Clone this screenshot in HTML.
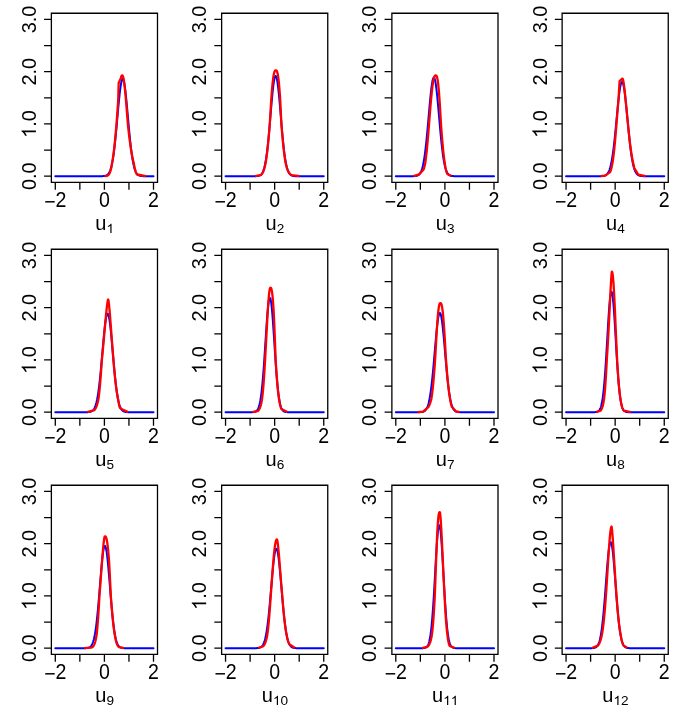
<!DOCTYPE html><html><head><meta charset="utf-8"><title>plot</title><style>html,body{margin:0;padding:0;background:#fff}svg{display:block;will-change:transform}text{font-family:"Liberation Sans",sans-serif;font-size:20px;fill:#000}</style></head><body>
<svg width="681" height="708" viewBox="0 0 681 708">
<rect width="681" height="708" fill="#fff"/>
<g transform="translate(0.00,0.00)">
<path d="M55.30,176.20 L55.61,176.20 L55.91,176.20 L56.22,176.20 L56.53,176.20 L56.83,176.20 L57.14,176.20 L57.45,176.20 L57.76,176.20 L58.06,176.20 L58.37,176.20 L58.68,176.20 L58.98,176.20 L59.29,176.20 L59.60,176.20 L59.90,176.20 L60.21,176.20 L60.52,176.20 L60.82,176.20 L61.13,176.20 L61.44,176.20 L61.74,176.20 L62.05,176.20 L62.36,176.20 L62.67,176.20 L62.97,176.20 L63.28,176.20 L63.59,176.20 L63.89,176.20 L64.20,176.20 L64.51,176.20 L64.81,176.20 L65.12,176.20 L65.43,176.20 L65.73,176.20 L66.04,176.20 L66.35,176.20 L66.65,176.20 L66.96,176.20 L67.27,176.20 L67.58,176.20 L67.88,176.20 L68.19,176.20 L68.50,176.20 L68.80,176.20 L69.11,176.20 L69.42,176.20 L69.72,176.20 L70.03,176.20 L70.34,176.20 L70.64,176.20 L70.95,176.20 L71.26,176.20 L71.56,176.20 L71.87,176.20 L72.18,176.20 L72.48,176.20 L72.79,176.20 L73.10,176.20 L73.41,176.20 L73.71,176.20 L74.02,176.20 L74.33,176.20 L74.63,176.20 L74.94,176.20 L75.25,176.20 L75.55,176.20 L75.86,176.20 L76.17,176.20 L76.47,176.20 L76.78,176.20 L77.09,176.20 L77.40,176.20 L77.70,176.20 L78.01,176.20 L78.32,176.20 L78.62,176.20 L78.93,176.20 L79.24,176.20 L79.54,176.20 L79.85,176.20 L80.16,176.20 L80.46,176.20 L80.77,176.20 L81.08,176.20 L81.38,176.20 L81.69,176.20 L82.00,176.20 L82.31,176.20 L82.61,176.20 L82.92,176.20 L83.23,176.20 L83.53,176.20 L83.84,176.20 L84.15,176.20 L84.45,176.20 L84.76,176.20 L85.07,176.20 L85.37,176.20 L85.68,176.20 L85.99,176.20 L86.29,176.20 L86.60,176.20 L86.91,176.20 L87.22,176.20 L87.52,176.20 L87.83,176.20 L88.14,176.20 L88.44,176.20 L88.75,176.20 L89.06,176.20 L89.36,176.20 L89.67,176.20 L89.98,176.20 L90.28,176.20 L90.59,176.20 L90.90,176.20 L91.20,176.20 L91.51,176.20 L91.82,176.20 L92.12,176.20 L92.43,176.20 L92.74,176.20 L93.05,176.20 L93.35,176.20 L93.66,176.20 L93.97,176.20 L94.27,176.20 L94.58,176.20 L94.89,176.20 L95.19,176.20 L95.50,176.20 L95.81,176.20 L96.11,176.20 L96.42,176.20 L96.73,176.20 L97.04,176.20 L97.34,176.20 L97.65,176.20 L97.96,176.20 L98.26,176.20 L98.57,176.20 L98.88,176.20 L99.18,176.20 L99.49,176.19 L99.80,176.19 L100.10,176.19 L100.41,176.19 L100.72,176.18 L101.02,176.18 L101.33,176.17 L101.64,176.17 L101.95,176.16 L102.25,176.15 L102.56,176.13 L102.87,176.12 L103.17,176.10 L103.48,176.07 L103.79,176.05 L104.09,176.01 L104.40,175.97 L104.71,175.91 L105.01,175.85 L105.32,175.78 L105.63,175.69 L105.93,175.58 L106.24,175.46 L106.55,175.31 L106.86,175.14 L107.16,174.94 L107.47,174.71 L107.78,174.44 L108.08,174.13 L108.39,173.77 L108.70,173.36 L109.00,172.88 L109.31,172.35 L109.62,171.74 L109.92,171.06 L110.23,170.29 L110.54,169.42 L110.84,168.46 L111.15,167.39 L111.46,166.21 L111.77,164.91 L112.07,163.48 L112.38,161.91 L112.69,160.21 L112.99,158.37 L113.30,156.38 L113.61,154.25 L113.91,151.97 L114.22,149.55 L114.53,146.98 L114.83,144.27 L115.14,141.42 L115.45,138.46 L115.75,135.38 L116.06,132.20 L116.37,128.93 L116.68,125.59 L116.98,122.19 L117.29,118.77 L117.60,115.34 L117.90,111.91 L118.21,108.53 L118.52,105.21 L118.82,101.98 L119.13,98.87 L119.44,95.90 L119.74,93.09 L120.05,90.49 L120.36,88.10 L120.66,85.94 L120.97,84.06 L121.28,82.45 L121.59,81.13 L121.89,80.12 L122.20,79.44 L122.51,79.07 L122.81,79.04 L123.12,79.34 L123.43,79.96 L123.73,80.90 L124.04,82.16 L124.35,83.71 L124.65,85.55 L124.96,87.65 L125.27,89.99 L125.57,92.56 L125.88,95.32 L126.19,98.26 L126.50,101.35 L126.80,104.56 L127.11,107.86 L127.42,111.23 L127.72,114.65 L128.03,118.08 L128.34,121.51 L128.64,124.91 L128.95,128.26 L129.26,131.55 L129.56,134.75 L129.87,137.85 L130.18,140.84 L130.48,143.71 L130.79,146.44 L131.10,149.04 L131.41,151.50 L131.71,153.81 L132.02,155.97 L132.33,157.99 L132.63,159.86 L132.94,161.58 L133.25,163.17 L133.55,164.63 L133.86,165.96 L134.17,167.16 L134.47,168.26 L134.78,169.24 L135.09,170.12 L135.39,170.91 L135.70,171.61 L136.01,172.23 L136.31,172.78 L136.62,173.27 L136.93,173.69 L137.24,174.06 L137.54,174.38 L137.85,174.66 L138.16,174.90 L138.46,175.11 L138.77,175.28 L139.08,175.43 L139.38,175.56 L139.69,175.67 L140.00,175.76 L140.30,175.84 L140.61,175.90 L140.92,175.96 L141.23,176.00 L141.53,176.04 L141.84,176.07 L142.15,176.09 L142.45,176.12 L142.76,176.13 L143.07,176.15 L143.37,176.16 L143.68,176.17 L143.99,176.17 L144.29,176.18 L144.60,176.18 L144.91,176.19 L145.21,176.19 L145.52,176.19 L145.83,176.19 L146.14,176.20 L146.44,176.20 L146.75,176.20 L147.06,176.20 L147.36,176.20 L147.67,176.20 L147.98,176.20 L148.28,176.20 L148.59,176.20 L148.90,176.20 L149.20,176.20 L149.51,176.20 L149.82,176.20 L150.12,176.20 L150.43,176.20 L150.74,176.20 L151.05,176.20 L151.35,176.20 L151.66,176.20 L151.97,176.20 L152.27,176.20 L152.58,176.20 L152.89,176.20 L153.19,176.20 L153.50,176.20" fill="none" stroke="#0000ff" stroke-width="2.0" stroke-linecap="round" stroke-linejoin="round"/>
<path d="M104.40,176.04 L107.20,175.78 L107.45,175.67 L107.70,175.54 L107.95,175.38 L108.20,175.19 L108.45,174.96 L108.70,174.69 L108.96,174.36 L109.21,173.98 L109.46,173.54 L109.71,173.02 L109.96,172.42 L110.21,171.73 L110.46,170.95 L110.71,170.06 L110.96,169.05 L111.22,167.92 L111.47,166.67 L111.72,165.27 L111.97,163.73 L112.22,162.29 L112.47,160.87 L112.72,159.35 L112.97,157.73 L113.22,155.99 L113.47,154.15 L113.73,152.19 L113.98,150.13 L114.23,147.95 L114.48,145.67 L114.73,143.29 L114.98,140.80 L115.23,138.22 L115.48,135.56 L115.73,132.80 L115.98,129.98 L116.24,127.09 L116.49,124.15 L116.74,120.69 L116.99,117.20 L117.24,113.71 L117.49,110.27 L117.74,106.88 L117.99,103.58 L118.24,98.26 L118.49,89.54 L118.69,82.83 L118.75,82.71 L119.00,82.19 L119.25,81.67 L119.50,81.15 L119.75,80.62 L120.00,80.10 L120.25,79.58 L120.50,79.06 L120.75,78.31 L121.01,77.32 L121.26,76.55 L121.51,76.00 L121.76,75.64 L122.01,75.46 L122.26,75.41 L122.51,75.52 L122.75,75.86 L123.00,76.45 L123.25,77.27 L123.49,78.34 L123.74,79.64 L123.99,81.17 L124.23,82.92 L124.48,84.88 L124.73,87.03 L124.97,89.36 L125.22,91.85 L125.46,94.50 L125.71,97.27 L125.96,100.15 L126.20,103.13 L126.45,106.18 L126.70,109.29 L126.94,112.43 L127.19,115.59 L127.44,118.75 L127.68,121.90 L127.93,124.76 L128.18,127.09 L128.42,129.36 L128.67,131.57 L128.92,133.72 L129.16,135.81 L129.41,137.84 L129.66,139.80 L129.90,141.70 L130.15,143.53 L130.40,145.29 L130.64,146.99 L130.89,148.61 L131.13,150.18 L131.38,151.67 L131.63,153.10 L131.87,154.47 L132.12,155.77 L132.37,157.01 L132.61,158.20 L132.86,159.32 L133.11,160.39 L133.35,161.40 L133.60,162.36 L133.85,163.37 L134.09,164.88 L134.34,166.26 L134.59,167.51 L134.83,168.64 L135.08,169.66 L135.33,170.57 L135.57,171.38 L135.82,172.09 L136.07,172.72 L136.31,173.27 L136.56,173.74 L136.80,174.15 L137.05,174.50 L146.01,176.04" fill="none" stroke="#ff0000" stroke-width="2.3" stroke-linecap="butt" stroke-linejoin="round"/>
<path d="M51.38,13.25 H157.50 V182.35 H51.38 Z M55.30,182.35 v7.30 M79.85,182.35 v7.30 M104.40,182.35 v7.30 M128.95,182.35 v7.30 M153.50,182.35 v7.30 M51.38,176.20 h-7.30 M51.38,150.07 h-7.30 M51.38,123.95 h-7.30 M51.38,97.82 h-7.30 M51.38,71.70 h-7.30 M51.38,45.57 h-7.30 M51.38,19.45 h-7.30" fill="none" stroke="#000" stroke-width="1.3"/>
<g transform="translate(55.30,206.8) scale(0.98,1.06) translate(-11.40,0)"><text x="0.00" y="2.10" style="font-size:20px">−</text><text x="11.68" y="0.00" style="font-size:20px">2</text></g>
<g transform="translate(104.40,206.8) scale(0.98,1.06) translate(-5.56,0)"><text x="0.00" y="0.00" style="font-size:20px">0</text></g>
<g transform="translate(153.50,206.8) scale(0.98,1.06) translate(-5.56,0)"><text x="0.00" y="0.00" style="font-size:20px">2</text></g>
<g transform="translate(35.9,176.20) rotate(-90) scale(1,1.05) translate(-13.90,0)"><text x="0.00" y="0.00" style="font-size:20px">0</text><text x="11.12" y="0.00" style="font-size:20px">.</text><text x="16.68" y="0.00" style="font-size:20px">0</text></g>
<g transform="translate(35.9,123.95) rotate(-90) scale(1,1.05) translate(-13.90,0)"><path d="M763 0H583V1147Q518 1085 412.5 1023T223 930V1104Q373 1174.5 485 1275T644 1469H763Z" transform="translate(0.00,0.00) scale(0.00977,-0.00933)" fill="#000"/><text x="11.12" y="0.00" style="font-size:20px">.</text><text x="16.68" y="0.00" style="font-size:20px">0</text></g>
<g transform="translate(35.9,71.70) rotate(-90) scale(1,1.05) translate(-13.90,0)"><text x="0.00" y="0.00" style="font-size:20px">2</text><text x="11.12" y="0.00" style="font-size:20px">.</text><text x="16.68" y="0.00" style="font-size:20px">0</text></g>
<g transform="translate(35.9,19.45) rotate(-90) scale(1,1.05) translate(-13.90,0)"><text x="0.00" y="0.00" style="font-size:20px">3</text><text x="11.12" y="0.00" style="font-size:20px">.</text><text x="16.68" y="0.00" style="font-size:20px">0</text></g>
<g transform="translate(104.70,229.6) translate(-9.34,0)"><text x="0.00" y="0.00" style="font-size:20px">u</text><path d="M763 0H583V1147Q518 1085 412.5 1023T223 930V1104Q373 1174.5 485 1275T644 1469H763Z" transform="translate(11.12,3.40) scale(0.00664,-0.00634)" fill="#000"/></g>
</g>
<g transform="translate(170.25,0.00)">
<path d="M55.30,176.20 L55.61,176.20 L55.91,176.20 L56.22,176.20 L56.53,176.20 L56.83,176.20 L57.14,176.20 L57.45,176.20 L57.76,176.20 L58.06,176.20 L58.37,176.20 L58.68,176.20 L58.98,176.20 L59.29,176.20 L59.60,176.20 L59.90,176.20 L60.21,176.20 L60.52,176.20 L60.82,176.20 L61.13,176.20 L61.44,176.20 L61.74,176.20 L62.05,176.20 L62.36,176.20 L62.67,176.20 L62.97,176.20 L63.28,176.20 L63.59,176.20 L63.89,176.20 L64.20,176.20 L64.51,176.20 L64.81,176.20 L65.12,176.20 L65.43,176.20 L65.73,176.20 L66.04,176.20 L66.35,176.20 L66.65,176.20 L66.96,176.20 L67.27,176.20 L67.58,176.20 L67.88,176.20 L68.19,176.20 L68.50,176.20 L68.80,176.20 L69.11,176.20 L69.42,176.20 L69.72,176.20 L70.03,176.20 L70.34,176.20 L70.64,176.20 L70.95,176.20 L71.26,176.20 L71.56,176.20 L71.87,176.20 L72.18,176.20 L72.48,176.20 L72.79,176.20 L73.10,176.20 L73.41,176.20 L73.71,176.20 L74.02,176.20 L74.33,176.20 L74.63,176.20 L74.94,176.20 L75.25,176.20 L75.55,176.20 L75.86,176.20 L76.17,176.20 L76.47,176.20 L76.78,176.20 L77.09,176.20 L77.40,176.20 L77.70,176.20 L78.01,176.20 L78.32,176.20 L78.62,176.20 L78.93,176.20 L79.24,176.20 L79.54,176.20 L79.85,176.20 L80.16,176.20 L80.46,176.20 L80.77,176.20 L81.08,176.20 L81.38,176.20 L81.69,176.20 L82.00,176.20 L82.31,176.20 L82.61,176.20 L82.92,176.19 L83.23,176.19 L83.53,176.19 L83.84,176.19 L84.15,176.18 L84.45,176.18 L84.76,176.17 L85.07,176.16 L85.37,176.15 L85.68,176.14 L85.99,176.13 L86.29,176.11 L86.60,176.08 L86.91,176.06 L87.22,176.02 L87.52,175.98 L87.83,175.93 L88.14,175.87 L88.44,175.79 L88.75,175.70 L89.06,175.60 L89.36,175.47 L89.67,175.32 L89.98,175.14 L90.28,174.93 L90.59,174.69 L90.90,174.41 L91.20,174.08 L91.51,173.70 L91.82,173.26 L92.12,172.75 L92.43,172.18 L92.74,171.53 L93.05,170.79 L93.35,169.95 L93.66,169.01 L93.97,167.96 L94.27,166.80 L94.58,165.50 L94.89,164.08 L95.19,162.51 L95.50,160.79 L95.81,158.92 L96.11,156.89 L96.42,154.71 L96.73,152.36 L97.04,149.85 L97.34,147.19 L97.65,144.36 L97.96,141.39 L98.26,138.28 L98.57,135.04 L98.88,131.69 L99.18,128.23 L99.49,124.70 L99.80,121.10 L100.10,117.46 L100.41,113.81 L100.72,110.17 L101.02,106.57 L101.33,103.04 L101.64,99.60 L101.95,96.30 L102.25,93.15 L102.56,90.19 L102.87,87.44 L103.17,84.94 L103.48,82.70 L103.79,80.76 L104.09,79.13 L104.40,77.82 L104.71,76.86 L105.01,76.24 L105.32,75.99 L105.63,76.10 L105.93,76.57 L106.24,77.39 L106.55,78.56 L106.86,80.07 L107.16,81.89 L107.47,84.01 L107.78,86.41 L108.08,89.06 L108.39,91.94 L108.70,95.02 L109.00,98.26 L109.31,101.65 L109.62,105.15 L109.92,108.72 L110.23,112.35 L110.54,116.00 L110.84,119.65 L111.15,123.26 L111.46,126.83 L111.77,130.32 L112.07,133.72 L112.38,137.00 L112.69,140.17 L112.99,143.19 L113.30,146.08 L113.61,148.81 L113.91,151.38 L114.22,153.79 L114.53,156.04 L114.83,158.13 L115.14,160.06 L115.45,161.84 L115.75,163.47 L116.06,164.95 L116.37,166.30 L116.68,167.51 L116.98,168.61 L117.29,169.59 L117.60,170.46 L117.90,171.24 L118.21,171.93 L118.52,172.53 L118.82,173.06 L119.13,173.53 L119.44,173.93 L119.74,174.28 L120.05,174.58 L120.36,174.84 L120.66,175.06 L120.97,175.25 L121.28,175.41 L121.59,175.55 L121.89,175.66 L122.20,175.76 L122.51,175.84 L122.81,175.90 L123.12,175.96 L123.43,176.01 L123.73,176.04 L124.04,176.07 L124.35,176.10 L124.65,176.12 L124.96,176.14 L125.27,176.15 L125.57,176.16 L125.88,176.17 L126.19,176.18 L126.50,176.18 L126.80,176.18 L127.11,176.19 L127.42,176.19 L127.72,176.19 L128.03,176.19 L128.34,176.20 L128.64,176.20 L128.95,176.20 L129.26,176.20 L129.56,176.20 L129.87,176.20 L130.18,176.20 L130.48,176.20 L130.79,176.20 L131.10,176.20 L131.41,176.20 L131.71,176.20 L132.02,176.20 L132.33,176.20 L132.63,176.20 L132.94,176.20 L133.25,176.20 L133.55,176.20 L133.86,176.20 L134.17,176.20 L134.47,176.20 L134.78,176.20 L135.09,176.20 L135.39,176.20 L135.70,176.20 L136.01,176.20 L136.31,176.20 L136.62,176.20 L136.93,176.20 L137.24,176.20 L137.54,176.20 L137.85,176.20 L138.16,176.20 L138.46,176.20 L138.77,176.20 L139.08,176.20 L139.38,176.20 L139.69,176.20 L140.00,176.20 L140.30,176.20 L140.61,176.20 L140.92,176.20 L141.23,176.20 L141.53,176.20 L141.84,176.20 L142.15,176.20 L142.45,176.20 L142.76,176.20 L143.07,176.20 L143.37,176.20 L143.68,176.20 L143.99,176.20 L144.29,176.20 L144.60,176.20 L144.91,176.20 L145.21,176.20 L145.52,176.20 L145.83,176.20 L146.14,176.20 L146.44,176.20 L146.75,176.20 L147.06,176.20 L147.36,176.20 L147.67,176.20 L147.98,176.20 L148.28,176.20 L148.59,176.20 L148.90,176.20 L149.20,176.20 L149.51,176.20 L149.82,176.20 L150.12,176.20 L150.43,176.20 L150.74,176.20 L151.05,176.20 L151.35,176.20 L151.66,176.20 L151.97,176.20 L152.27,176.20 L152.58,176.20 L152.89,176.20 L153.19,176.20 L153.50,176.20" fill="none" stroke="#0000ff" stroke-width="2.0" stroke-linecap="round" stroke-linejoin="round"/>
<path d="M84.56,176.04 L90.28,175.16 L90.54,174.98 L90.79,174.79 L91.05,174.56 L91.31,174.31 L91.56,174.02 L91.82,173.70 L92.07,173.33 L92.33,172.92 L92.58,172.46 L92.84,171.95 L93.09,171.37 L93.35,170.73 L93.60,170.03 L93.86,169.25 L94.11,168.39 L94.37,167.45 L94.62,166.42 L94.88,165.29 L95.13,164.07 L95.39,162.73 L95.65,161.25 L95.90,159.66 L96.16,157.94 L96.41,156.10 L96.67,154.14 L96.92,152.05 L97.18,149.84 L97.43,147.50 L97.69,145.04 L97.94,142.46 L98.20,139.77 L98.45,136.97 L98.71,134.07 L98.96,131.08 L99.22,128.01 L99.48,124.87 L99.73,120.80 L99.99,116.38 L100.24,112.00 L100.50,107.71 L100.75,103.54 L101.01,99.54 L101.26,95.89 L101.52,92.59 L101.77,89.48 L102.03,86.58 L102.28,83.92 L102.54,81.50 L102.79,79.33 L103.05,77.42 L103.31,75.75 L103.56,74.34 L103.82,73.17 L104.07,72.23 L104.33,71.50 L104.58,70.97 L104.84,70.61 L105.09,70.40 L105.35,70.31 L105.60,70.29 L105.87,70.31 L106.14,70.43 L106.40,70.71 L106.67,71.17 L106.93,71.85 L107.20,72.79 L107.47,74.00 L107.73,75.50 L108.00,77.30 L108.27,79.41 L108.53,81.83 L108.80,84.56 L109.07,87.57 L109.33,90.87 L109.60,94.41 L109.86,98.32 L110.13,103.30 L110.40,108.57 L110.66,114.08 L110.93,119.74 L111.20,124.83 L111.46,128.15 L111.73,131.37 L112.00,134.50 L112.26,137.51 L112.53,140.40 L112.79,143.17 L113.06,145.81 L113.33,148.31 L113.59,150.67 L113.86,152.90 L114.13,154.99 L114.39,156.94 L114.66,158.76 L114.93,160.45 L115.19,162.01 L115.46,163.41 L115.72,164.54 L115.99,165.60 L116.26,166.57 L116.52,167.47 L116.79,168.29 L117.06,169.05 L117.32,169.74 L117.59,170.38 L117.86,170.96 L118.12,171.49 L118.39,171.97 L118.65,172.40 L118.92,172.80 L119.19,173.16 L119.45,173.49 L119.72,173.78 L119.99,174.05 L120.25,174.28 L120.52,174.50 L120.79,174.69 L121.05,174.86 L121.32,175.02 L121.59,175.16 L129.32,176.04" fill="none" stroke="#ff0000" stroke-width="2.3" stroke-linecap="butt" stroke-linejoin="round"/>
<path d="M51.38,13.25 H157.50 V182.35 H51.38 Z M55.30,182.35 v7.30 M79.85,182.35 v7.30 M104.40,182.35 v7.30 M128.95,182.35 v7.30 M153.50,182.35 v7.30 M51.38,176.20 h-7.30 M51.38,150.07 h-7.30 M51.38,123.95 h-7.30 M51.38,97.82 h-7.30 M51.38,71.70 h-7.30 M51.38,45.57 h-7.30 M51.38,19.45 h-7.30" fill="none" stroke="#000" stroke-width="1.3"/>
<g transform="translate(55.30,206.8) scale(0.98,1.06) translate(-11.40,0)"><text x="0.00" y="2.10" style="font-size:20px">−</text><text x="11.68" y="0.00" style="font-size:20px">2</text></g>
<g transform="translate(104.40,206.8) scale(0.98,1.06) translate(-5.56,0)"><text x="0.00" y="0.00" style="font-size:20px">0</text></g>
<g transform="translate(153.50,206.8) scale(0.98,1.06) translate(-5.56,0)"><text x="0.00" y="0.00" style="font-size:20px">2</text></g>
<g transform="translate(35.9,176.20) rotate(-90) scale(1,1.05) translate(-13.90,0)"><text x="0.00" y="0.00" style="font-size:20px">0</text><text x="11.12" y="0.00" style="font-size:20px">.</text><text x="16.68" y="0.00" style="font-size:20px">0</text></g>
<g transform="translate(35.9,123.95) rotate(-90) scale(1,1.05) translate(-13.90,0)"><path d="M763 0H583V1147Q518 1085 412.5 1023T223 930V1104Q373 1174.5 485 1275T644 1469H763Z" transform="translate(0.00,0.00) scale(0.00977,-0.00933)" fill="#000"/><text x="11.12" y="0.00" style="font-size:20px">.</text><text x="16.68" y="0.00" style="font-size:20px">0</text></g>
<g transform="translate(35.9,71.70) rotate(-90) scale(1,1.05) translate(-13.90,0)"><text x="0.00" y="0.00" style="font-size:20px">2</text><text x="11.12" y="0.00" style="font-size:20px">.</text><text x="16.68" y="0.00" style="font-size:20px">0</text></g>
<g transform="translate(35.9,19.45) rotate(-90) scale(1,1.05) translate(-13.90,0)"><text x="0.00" y="0.00" style="font-size:20px">3</text><text x="11.12" y="0.00" style="font-size:20px">.</text><text x="16.68" y="0.00" style="font-size:20px">0</text></g>
<g transform="translate(104.70,229.6) translate(-9.34,0)"><text x="0.00" y="0.00" style="font-size:20px">u</text><text x="11.12" y="3.40" style="font-size:13.6px">2</text></g>
</g>
<g transform="translate(340.50,0.00)">
<path d="M55.30,176.20 L55.61,176.20 L55.91,176.20 L56.22,176.20 L56.53,176.20 L56.83,176.20 L57.14,176.20 L57.45,176.20 L57.76,176.20 L58.06,176.20 L58.37,176.20 L58.68,176.20 L58.98,176.20 L59.29,176.20 L59.60,176.20 L59.90,176.20 L60.21,176.20 L60.52,176.20 L60.82,176.20 L61.13,176.20 L61.44,176.20 L61.74,176.20 L62.05,176.20 L62.36,176.20 L62.67,176.20 L62.97,176.20 L63.28,176.20 L63.59,176.20 L63.89,176.20 L64.20,176.20 L64.51,176.20 L64.81,176.20 L65.12,176.20 L65.43,176.20 L65.73,176.20 L66.04,176.20 L66.35,176.20 L66.65,176.20 L66.96,176.20 L67.27,176.20 L67.58,176.20 L67.88,176.20 L68.19,176.20 L68.50,176.20 L68.80,176.20 L69.11,176.20 L69.42,176.20 L69.72,176.20 L70.03,176.20 L70.34,176.19 L70.64,176.19 L70.95,176.19 L71.26,176.19 L71.56,176.19 L71.87,176.18 L72.18,176.18 L72.48,176.17 L72.79,176.16 L73.10,176.15 L73.41,176.14 L73.71,176.12 L74.02,176.10 L74.33,176.08 L74.63,176.05 L74.94,176.02 L75.25,175.98 L75.55,175.92 L75.86,175.86 L76.17,175.79 L76.47,175.70 L76.78,175.60 L77.09,175.47 L77.40,175.33 L77.70,175.15 L78.01,174.95 L78.32,174.72 L78.62,174.44 L78.93,174.13 L79.24,173.76 L79.54,173.34 L79.85,172.86 L80.16,172.31 L80.46,171.68 L80.77,170.98 L81.08,170.18 L81.38,169.29 L81.69,168.30 L82.00,167.19 L82.31,165.97 L82.61,164.61 L82.92,163.13 L83.23,161.50 L83.53,159.74 L83.84,157.82 L84.15,155.75 L84.45,153.53 L84.76,151.15 L85.07,148.63 L85.37,145.95 L85.68,143.13 L85.99,140.17 L86.29,137.09 L86.60,133.89 L86.91,130.59 L87.22,127.20 L87.52,123.74 L87.83,120.24 L88.14,116.71 L88.44,113.17 L88.75,109.66 L89.06,106.20 L89.36,102.82 L89.67,99.54 L89.98,96.40 L90.28,93.42 L90.59,90.62 L90.90,88.04 L91.20,85.70 L91.51,83.62 L91.82,81.82 L92.12,80.32 L92.43,79.14 L92.74,78.29 L93.05,77.78 L93.35,77.60 L93.66,77.78 L93.97,78.29 L94.27,79.14 L94.58,80.32 L94.89,81.82 L95.19,83.62 L95.50,85.70 L95.81,88.04 L96.11,90.62 L96.42,93.42 L96.73,96.40 L97.04,99.54 L97.34,102.82 L97.65,106.20 L97.96,109.66 L98.26,113.17 L98.57,116.71 L98.88,120.24 L99.18,123.74 L99.49,127.20 L99.80,130.59 L100.10,133.89 L100.41,137.09 L100.72,140.17 L101.02,143.13 L101.33,145.95 L101.64,148.63 L101.95,151.15 L102.25,153.53 L102.56,155.75 L102.87,157.82 L103.17,159.74 L103.48,161.50 L103.79,163.13 L104.09,164.61 L104.40,165.97 L104.71,167.19 L105.01,168.30 L105.32,169.29 L105.63,170.18 L105.93,170.98 L106.24,171.68 L106.55,172.31 L106.86,172.86 L107.16,173.34 L107.47,173.76 L107.78,174.13 L108.08,174.44 L108.39,174.72 L108.70,174.95 L109.00,175.15 L109.31,175.33 L109.62,175.47 L109.92,175.60 L110.23,175.70 L110.54,175.79 L110.84,175.86 L111.15,175.92 L111.46,175.98 L111.77,176.02 L112.07,176.05 L112.38,176.08 L112.69,176.10 L112.99,176.12 L113.30,176.14 L113.61,176.15 L113.91,176.16 L114.22,176.17 L114.53,176.18 L114.83,176.18 L115.14,176.19 L115.45,176.19 L115.75,176.19 L116.06,176.19 L116.37,176.19 L116.68,176.20 L116.98,176.20 L117.29,176.20 L117.60,176.20 L117.90,176.20 L118.21,176.20 L118.52,176.20 L118.82,176.20 L119.13,176.20 L119.44,176.20 L119.74,176.20 L120.05,176.20 L120.36,176.20 L120.66,176.20 L120.97,176.20 L121.28,176.20 L121.59,176.20 L121.89,176.20 L122.20,176.20 L122.51,176.20 L122.81,176.20 L123.12,176.20 L123.43,176.20 L123.73,176.20 L124.04,176.20 L124.35,176.20 L124.65,176.20 L124.96,176.20 L125.27,176.20 L125.57,176.20 L125.88,176.20 L126.19,176.20 L126.50,176.20 L126.80,176.20 L127.11,176.20 L127.42,176.20 L127.72,176.20 L128.03,176.20 L128.34,176.20 L128.64,176.20 L128.95,176.20 L129.26,176.20 L129.56,176.20 L129.87,176.20 L130.18,176.20 L130.48,176.20 L130.79,176.20 L131.10,176.20 L131.41,176.20 L131.71,176.20 L132.02,176.20 L132.33,176.20 L132.63,176.20 L132.94,176.20 L133.25,176.20 L133.55,176.20 L133.86,176.20 L134.17,176.20 L134.47,176.20 L134.78,176.20 L135.09,176.20 L135.39,176.20 L135.70,176.20 L136.01,176.20 L136.31,176.20 L136.62,176.20 L136.93,176.20 L137.24,176.20 L137.54,176.20 L137.85,176.20 L138.16,176.20 L138.46,176.20 L138.77,176.20 L139.08,176.20 L139.38,176.20 L139.69,176.20 L140.00,176.20 L140.30,176.20 L140.61,176.20 L140.92,176.20 L141.23,176.20 L141.53,176.20 L141.84,176.20 L142.15,176.20 L142.45,176.20 L142.76,176.20 L143.07,176.20 L143.37,176.20 L143.68,176.20 L143.99,176.20 L144.29,176.20 L144.60,176.20 L144.91,176.20 L145.21,176.20 L145.52,176.20 L145.83,176.20 L146.14,176.20 L146.44,176.20 L146.75,176.20 L147.06,176.20 L147.36,176.20 L147.67,176.20 L147.98,176.20 L148.28,176.20 L148.59,176.20 L148.90,176.20 L149.20,176.20 L149.51,176.20 L149.82,176.20 L150.12,176.20 L150.43,176.20 L150.74,176.20 L151.05,176.20 L151.35,176.20 L151.66,176.20 L151.97,176.20 L152.27,176.20 L152.58,176.20 L152.89,176.20 L153.19,176.20 L153.50,176.20" fill="none" stroke="#0000ff" stroke-width="2.0" stroke-linecap="round" stroke-linejoin="round"/>
<path d="M72.98,176.04 L78.62,174.37 L83.12,169.51 L83.32,168.88 L83.52,168.21 L83.72,167.49 L83.92,166.71 L84.12,165.89 L84.32,165.00 L84.52,164.06 L84.73,163.04 L84.93,161.71 L85.13,160.29 L85.33,158.78 L85.53,157.18 L85.73,155.48 L85.93,153.70 L86.13,151.82 L86.34,149.86 L86.54,147.82 L86.74,145.69 L86.94,143.48 L87.14,141.21 L87.34,138.87 L87.54,136.47 L87.75,134.01 L87.95,131.51 L88.15,128.97 L88.35,126.41 L88.55,123.83 L88.75,121.33 L88.95,118.82 L89.15,116.32 L89.36,113.83 L89.56,111.36 L89.76,108.92 L89.96,106.52 L90.16,104.17 L90.36,101.87 L90.56,99.64 L90.76,97.48 L90.97,95.39 L91.17,93.39 L91.37,91.48 L91.57,89.67 L91.77,87.96 L91.97,86.35 L92.17,84.86 L92.38,83.47 L92.58,82.20 L92.78,81.05 L92.98,80.01 L93.18,79.09 L93.38,78.28 L93.58,77.58 L93.78,76.99 L93.99,76.50 L94.19,76.12 L94.39,75.82 L94.59,75.62 L94.79,75.49 L94.99,75.42 L95.19,75.41 L95.39,75.42 L95.58,75.48 L95.78,75.62 L95.97,75.85 L96.17,76.20 L96.36,76.68 L96.55,77.29 L96.75,78.06 L96.94,79.00 L97.14,80.10 L97.33,81.38 L97.53,82.84 L97.72,84.48 L97.91,86.30 L98.11,88.30 L98.30,90.47 L98.50,92.80 L98.69,95.30 L98.89,97.94 L99.08,100.71 L99.28,103.61 L99.47,106.72 L99.66,109.94 L99.86,113.24 L100.05,116.60 L100.25,120.00 L100.44,123.41 L100.64,126.16 L100.83,128.76 L101.02,131.31 L101.22,133.82 L101.41,136.26 L101.61,138.65 L101.80,140.96 L102.00,143.20 L102.19,145.36 L102.38,147.44 L102.58,149.43 L102.77,151.34 L102.97,153.16 L103.16,154.89 L103.36,156.54 L103.55,158.09 L103.75,159.56 L103.94,160.94 L104.13,162.24 L104.33,163.50 L104.52,164.83 L104.72,166.05 L104.91,167.17 L105.11,168.20 L105.30,169.13 L105.49,169.98 L105.69,170.74 L105.88,171.43 L106.08,172.05 L106.27,172.60 L106.47,173.09 L106.66,173.52 L106.86,173.90 L110.88,176.04" fill="none" stroke="#ff0000" stroke-width="2.3" stroke-linecap="butt" stroke-linejoin="round"/>
<path d="M51.38,13.25 H157.50 V182.35 H51.38 Z M55.30,182.35 v7.30 M79.85,182.35 v7.30 M104.40,182.35 v7.30 M128.95,182.35 v7.30 M153.50,182.35 v7.30 M51.38,176.20 h-7.30 M51.38,150.07 h-7.30 M51.38,123.95 h-7.30 M51.38,97.82 h-7.30 M51.38,71.70 h-7.30 M51.38,45.57 h-7.30 M51.38,19.45 h-7.30" fill="none" stroke="#000" stroke-width="1.3"/>
<g transform="translate(55.30,206.8) scale(0.98,1.06) translate(-11.40,0)"><text x="0.00" y="2.10" style="font-size:20px">−</text><text x="11.68" y="0.00" style="font-size:20px">2</text></g>
<g transform="translate(104.40,206.8) scale(0.98,1.06) translate(-5.56,0)"><text x="0.00" y="0.00" style="font-size:20px">0</text></g>
<g transform="translate(153.50,206.8) scale(0.98,1.06) translate(-5.56,0)"><text x="0.00" y="0.00" style="font-size:20px">2</text></g>
<g transform="translate(35.9,176.20) rotate(-90) scale(1,1.05) translate(-13.90,0)"><text x="0.00" y="0.00" style="font-size:20px">0</text><text x="11.12" y="0.00" style="font-size:20px">.</text><text x="16.68" y="0.00" style="font-size:20px">0</text></g>
<g transform="translate(35.9,123.95) rotate(-90) scale(1,1.05) translate(-13.90,0)"><path d="M763 0H583V1147Q518 1085 412.5 1023T223 930V1104Q373 1174.5 485 1275T644 1469H763Z" transform="translate(0.00,0.00) scale(0.00977,-0.00933)" fill="#000"/><text x="11.12" y="0.00" style="font-size:20px">.</text><text x="16.68" y="0.00" style="font-size:20px">0</text></g>
<g transform="translate(35.9,71.70) rotate(-90) scale(1,1.05) translate(-13.90,0)"><text x="0.00" y="0.00" style="font-size:20px">2</text><text x="11.12" y="0.00" style="font-size:20px">.</text><text x="16.68" y="0.00" style="font-size:20px">0</text></g>
<g transform="translate(35.9,19.45) rotate(-90) scale(1,1.05) translate(-13.90,0)"><text x="0.00" y="0.00" style="font-size:20px">3</text><text x="11.12" y="0.00" style="font-size:20px">.</text><text x="16.68" y="0.00" style="font-size:20px">0</text></g>
<g transform="translate(104.70,229.6) translate(-9.34,0)"><text x="0.00" y="0.00" style="font-size:20px">u</text><text x="11.12" y="3.40" style="font-size:13.6px">3</text></g>
</g>
<g transform="translate(510.75,0.00)">
<path d="M55.30,176.20 L55.61,176.20 L55.91,176.20 L56.22,176.20 L56.53,176.20 L56.83,176.20 L57.14,176.20 L57.45,176.20 L57.76,176.20 L58.06,176.20 L58.37,176.20 L58.68,176.20 L58.98,176.20 L59.29,176.20 L59.60,176.20 L59.90,176.20 L60.21,176.20 L60.52,176.20 L60.82,176.20 L61.13,176.20 L61.44,176.20 L61.74,176.20 L62.05,176.20 L62.36,176.20 L62.67,176.20 L62.97,176.20 L63.28,176.20 L63.59,176.20 L63.89,176.20 L64.20,176.20 L64.51,176.20 L64.81,176.20 L65.12,176.20 L65.43,176.20 L65.73,176.20 L66.04,176.20 L66.35,176.20 L66.65,176.20 L66.96,176.20 L67.27,176.20 L67.58,176.20 L67.88,176.20 L68.19,176.20 L68.50,176.20 L68.80,176.20 L69.11,176.20 L69.42,176.20 L69.72,176.20 L70.03,176.20 L70.34,176.20 L70.64,176.20 L70.95,176.20 L71.26,176.20 L71.56,176.20 L71.87,176.20 L72.18,176.20 L72.48,176.20 L72.79,176.20 L73.10,176.20 L73.41,176.20 L73.71,176.20 L74.02,176.20 L74.33,176.20 L74.63,176.20 L74.94,176.20 L75.25,176.20 L75.55,176.20 L75.86,176.20 L76.17,176.20 L76.47,176.20 L76.78,176.20 L77.09,176.20 L77.40,176.20 L77.70,176.20 L78.01,176.20 L78.32,176.20 L78.62,176.20 L78.93,176.20 L79.24,176.20 L79.54,176.20 L79.85,176.20 L80.16,176.20 L80.46,176.20 L80.77,176.20 L81.08,176.20 L81.38,176.20 L81.69,176.20 L82.00,176.20 L82.31,176.20 L82.61,176.20 L82.92,176.20 L83.23,176.20 L83.53,176.20 L83.84,176.20 L84.15,176.20 L84.45,176.20 L84.76,176.20 L85.07,176.20 L85.37,176.20 L85.68,176.20 L85.99,176.20 L86.29,176.20 L86.60,176.20 L86.91,176.20 L87.22,176.19 L87.52,176.19 L87.83,176.19 L88.14,176.19 L88.44,176.19 L88.75,176.18 L89.06,176.18 L89.36,176.17 L89.67,176.17 L89.98,176.16 L90.28,176.15 L90.59,176.13 L90.90,176.12 L91.20,176.10 L91.51,176.07 L91.82,176.05 L92.12,176.01 L92.43,175.97 L92.74,175.92 L93.05,175.86 L93.35,175.79 L93.66,175.71 L93.97,175.61 L94.27,175.50 L94.58,175.36 L94.89,175.20 L95.19,175.02 L95.50,174.81 L95.81,174.56 L96.11,174.28 L96.42,173.96 L96.73,173.59 L97.04,173.17 L97.34,172.69 L97.65,172.15 L97.96,171.54 L98.26,170.85 L98.57,170.09 L98.88,169.23 L99.18,168.29 L99.49,167.24 L99.80,166.09 L100.10,164.83 L100.41,163.45 L100.72,161.94 L101.02,160.32 L101.33,158.56 L101.64,156.67 L101.95,154.64 L102.25,152.48 L102.56,150.19 L102.87,147.77 L103.17,145.22 L103.48,142.55 L103.79,139.77 L104.09,136.88 L104.40,133.90 L104.71,130.84 L105.01,127.71 L105.32,124.53 L105.63,121.32 L105.93,118.09 L106.24,114.87 L106.55,111.68 L106.86,108.53 L107.16,105.46 L107.47,102.49 L107.78,99.64 L108.08,96.93 L108.39,94.38 L108.70,92.03 L109.00,89.88 L109.31,87.95 L109.62,86.28 L109.92,84.86 L110.23,83.72 L110.54,82.86 L110.84,82.29 L111.15,82.02 L111.46,82.05 L111.77,82.38 L112.07,83.00 L112.38,83.92 L112.69,85.12 L112.99,86.59 L113.30,88.32 L113.61,90.29 L113.91,92.48 L114.22,94.88 L114.53,97.46 L114.83,100.20 L115.14,103.08 L115.45,106.07 L115.75,109.16 L116.06,112.31 L116.37,115.51 L116.68,118.73 L116.98,121.96 L117.29,125.17 L117.60,128.34 L117.90,131.45 L118.21,134.50 L118.52,137.47 L118.82,140.33 L119.13,143.09 L119.44,145.74 L119.74,148.26 L120.05,150.66 L120.36,152.93 L120.66,155.06 L120.97,157.05 L121.28,158.92 L121.59,160.65 L121.89,162.25 L122.20,163.73 L122.51,165.09 L122.81,166.33 L123.12,167.46 L123.43,168.49 L123.73,169.41 L124.04,170.25 L124.35,171.00 L124.65,171.66 L124.96,172.26 L125.27,172.79 L125.57,173.25 L125.88,173.67 L126.19,174.03 L126.50,174.34 L126.80,174.62 L127.11,174.85 L127.42,175.06 L127.72,175.24 L128.03,175.39 L128.34,175.52 L128.64,175.63 L128.95,175.73 L129.26,175.81 L129.56,175.87 L129.87,175.93 L130.18,175.98 L130.48,176.02 L130.79,176.05 L131.10,176.08 L131.41,176.10 L131.71,176.12 L132.02,176.14 L132.33,176.15 L132.63,176.16 L132.94,176.17 L133.25,176.17 L133.55,176.18 L133.86,176.18 L134.17,176.19 L134.47,176.19 L134.78,176.19 L135.09,176.19 L135.39,176.20 L135.70,176.20 L136.01,176.20 L136.31,176.20 L136.62,176.20 L136.93,176.20 L137.24,176.20 L137.54,176.20 L137.85,176.20 L138.16,176.20 L138.46,176.20 L138.77,176.20 L139.08,176.20 L139.38,176.20 L139.69,176.20 L140.00,176.20 L140.30,176.20 L140.61,176.20 L140.92,176.20 L141.23,176.20 L141.53,176.20 L141.84,176.20 L142.15,176.20 L142.45,176.20 L142.76,176.20 L143.07,176.20 L143.37,176.20 L143.68,176.20 L143.99,176.20 L144.29,176.20 L144.60,176.20 L144.91,176.20 L145.21,176.20 L145.52,176.20 L145.83,176.20 L146.14,176.20 L146.44,176.20 L146.75,176.20 L147.06,176.20 L147.36,176.20 L147.67,176.20 L147.98,176.20 L148.28,176.20 L148.59,176.20 L148.90,176.20 L149.20,176.20 L149.51,176.20 L149.82,176.20 L150.12,176.20 L150.43,176.20 L150.74,176.20 L151.05,176.20 L151.35,176.20 L151.66,176.20 L151.97,176.20 L152.27,176.20 L152.58,176.20 L152.89,176.20 L153.19,176.20 L153.50,176.20" fill="none" stroke="#0000ff" stroke-width="2.0" stroke-linecap="round" stroke-linejoin="round"/>
<path d="M89.67,176.04 L94.46,175.68 L99.32,172.18 L99.53,171.69 L99.73,171.15 L99.94,170.56 L100.15,169.92 L100.36,169.22 L100.57,168.46 L100.78,167.63 L100.98,166.74 L101.19,165.78 L101.40,164.75 L101.61,163.64 L101.82,162.42 L102.03,161.10 L102.23,159.68 L102.44,158.18 L102.65,156.59 L102.86,154.92 L103.07,153.15 L103.28,151.30 L103.48,149.36 L103.69,147.34 L103.90,145.24 L104.11,143.07 L104.32,140.82 L104.52,138.51 L104.73,136.14 L104.94,133.72 L105.15,131.25 L105.36,128.74 L105.57,126.21 L105.77,123.64 L105.98,121.00 L106.19,118.36 L106.40,115.73 L106.61,113.13 L106.82,110.56 L107.02,108.03 L107.23,105.56 L107.44,103.15 L107.65,100.48 L107.86,97.15 L108.07,93.82 L108.27,90.50 L108.48,87.17 L108.69,83.84 L108.87,81.00 L108.90,80.98 L109.11,80.81 L109.31,80.64 L109.52,80.47 L109.73,80.30 L109.94,80.13 L110.15,79.96 L110.36,79.79 L110.56,79.62 L110.77,79.45 L110.98,79.17 L111.19,78.89 L111.40,78.71 L111.61,78.62 L111.81,78.60 L112.01,78.86 L112.21,79.42 L112.40,80.19 L112.60,81.14 L112.79,82.24 L112.99,83.47 L113.18,84.83 L113.38,86.29 L113.57,87.85 L113.77,89.49 L113.97,91.21 L114.16,92.99 L114.36,94.83 L114.55,96.71 L114.75,98.64 L114.94,100.61 L115.14,102.60 L115.33,104.61 L115.53,106.63 L115.73,108.67 L115.92,110.71 L116.12,112.75 L116.31,114.78 L116.51,116.80 L116.70,118.80 L116.90,120.79 L117.09,122.75 L117.29,124.73 L117.49,126.74 L117.68,128.71 L117.88,130.65 L118.07,132.56 L118.27,134.42 L118.46,136.25 L118.66,138.03 L118.86,139.76 L119.05,141.45 L119.25,143.09 L119.44,144.69 L119.64,146.23 L119.83,147.73 L120.03,149.17 L120.22,150.57 L120.42,151.91 L120.62,153.20 L120.81,154.45 L121.01,155.64 L121.20,156.79 L121.40,157.89 L121.59,158.94 L121.79,159.94 L121.98,160.90 L122.18,161.81 L122.38,162.68 L122.57,163.63 L122.77,164.64 L122.96,165.60 L123.16,166.49 L123.35,167.32 L123.55,168.10 L127.50,174.63 L134.96,176.04" fill="none" stroke="#ff0000" stroke-width="2.3" stroke-linecap="butt" stroke-linejoin="round"/>
<path d="M51.38,13.25 H157.50 V182.35 H51.38 Z M55.30,182.35 v7.30 M79.85,182.35 v7.30 M104.40,182.35 v7.30 M128.95,182.35 v7.30 M153.50,182.35 v7.30 M51.38,176.20 h-7.30 M51.38,150.07 h-7.30 M51.38,123.95 h-7.30 M51.38,97.82 h-7.30 M51.38,71.70 h-7.30 M51.38,45.57 h-7.30 M51.38,19.45 h-7.30" fill="none" stroke="#000" stroke-width="1.3"/>
<g transform="translate(55.30,206.8) scale(0.98,1.06) translate(-11.40,0)"><text x="0.00" y="2.10" style="font-size:20px">−</text><text x="11.68" y="0.00" style="font-size:20px">2</text></g>
<g transform="translate(104.40,206.8) scale(0.98,1.06) translate(-5.56,0)"><text x="0.00" y="0.00" style="font-size:20px">0</text></g>
<g transform="translate(153.50,206.8) scale(0.98,1.06) translate(-5.56,0)"><text x="0.00" y="0.00" style="font-size:20px">2</text></g>
<g transform="translate(35.9,176.20) rotate(-90) scale(1,1.05) translate(-13.90,0)"><text x="0.00" y="0.00" style="font-size:20px">0</text><text x="11.12" y="0.00" style="font-size:20px">.</text><text x="16.68" y="0.00" style="font-size:20px">0</text></g>
<g transform="translate(35.9,123.95) rotate(-90) scale(1,1.05) translate(-13.90,0)"><path d="M763 0H583V1147Q518 1085 412.5 1023T223 930V1104Q373 1174.5 485 1275T644 1469H763Z" transform="translate(0.00,0.00) scale(0.00977,-0.00933)" fill="#000"/><text x="11.12" y="0.00" style="font-size:20px">.</text><text x="16.68" y="0.00" style="font-size:20px">0</text></g>
<g transform="translate(35.9,71.70) rotate(-90) scale(1,1.05) translate(-13.90,0)"><text x="0.00" y="0.00" style="font-size:20px">2</text><text x="11.12" y="0.00" style="font-size:20px">.</text><text x="16.68" y="0.00" style="font-size:20px">0</text></g>
<g transform="translate(35.9,19.45) rotate(-90) scale(1,1.05) translate(-13.90,0)"><text x="0.00" y="0.00" style="font-size:20px">3</text><text x="11.12" y="0.00" style="font-size:20px">.</text><text x="16.68" y="0.00" style="font-size:20px">0</text></g>
<g transform="translate(104.70,229.6) translate(-9.34,0)"><text x="0.00" y="0.00" style="font-size:20px">u</text><text x="11.12" y="3.40" style="font-size:13.6px">4</text></g>
</g>
<g transform="translate(0.00,236.00)">
<path d="M55.30,176.20 L55.61,176.20 L55.91,176.20 L56.22,176.20 L56.53,176.20 L56.83,176.20 L57.14,176.20 L57.45,176.20 L57.76,176.20 L58.06,176.20 L58.37,176.20 L58.68,176.20 L58.98,176.20 L59.29,176.20 L59.60,176.20 L59.90,176.20 L60.21,176.20 L60.52,176.20 L60.82,176.20 L61.13,176.20 L61.44,176.20 L61.74,176.20 L62.05,176.20 L62.36,176.20 L62.67,176.20 L62.97,176.20 L63.28,176.20 L63.59,176.20 L63.89,176.20 L64.20,176.20 L64.51,176.20 L64.81,176.20 L65.12,176.20 L65.43,176.20 L65.73,176.20 L66.04,176.20 L66.35,176.20 L66.65,176.20 L66.96,176.20 L67.27,176.20 L67.58,176.20 L67.88,176.20 L68.19,176.20 L68.50,176.20 L68.80,176.20 L69.11,176.20 L69.42,176.20 L69.72,176.20 L70.03,176.20 L70.34,176.20 L70.64,176.20 L70.95,176.20 L71.26,176.20 L71.56,176.20 L71.87,176.20 L72.18,176.20 L72.48,176.20 L72.79,176.20 L73.10,176.20 L73.41,176.20 L73.71,176.20 L74.02,176.20 L74.33,176.20 L74.63,176.20 L74.94,176.20 L75.25,176.20 L75.55,176.20 L75.86,176.20 L76.17,176.20 L76.47,176.20 L76.78,176.20 L77.09,176.20 L77.40,176.20 L77.70,176.20 L78.01,176.20 L78.32,176.20 L78.62,176.20 L78.93,176.20 L79.24,176.20 L79.54,176.20 L79.85,176.20 L80.16,176.20 L80.46,176.20 L80.77,176.20 L81.08,176.20 L81.38,176.20 L81.69,176.20 L82.00,176.20 L82.31,176.20 L82.61,176.20 L82.92,176.20 L83.23,176.20 L83.53,176.20 L83.84,176.20 L84.15,176.20 L84.45,176.20 L84.76,176.19 L85.07,176.19 L85.37,176.19 L85.68,176.19 L85.99,176.18 L86.29,176.18 L86.60,176.17 L86.91,176.16 L87.22,176.15 L87.52,176.14 L87.83,176.13 L88.14,176.11 L88.44,176.09 L88.75,176.06 L89.06,176.03 L89.36,175.99 L89.67,175.94 L89.98,175.89 L90.28,175.82 L90.59,175.73 L90.90,175.64 L91.20,175.52 L91.51,175.38 L91.82,175.22 L92.12,175.03 L92.43,174.80 L92.74,174.54 L93.05,174.24 L93.35,173.90 L93.66,173.50 L93.97,173.04 L94.27,172.51 L94.58,171.92 L94.89,171.24 L95.19,170.48 L95.50,169.63 L95.81,168.68 L96.11,167.61 L96.42,166.43 L96.73,165.13 L97.04,163.70 L97.34,162.13 L97.65,160.42 L97.96,158.56 L98.26,156.55 L98.57,154.39 L98.88,152.08 L99.18,149.61 L99.49,146.99 L99.80,144.23 L100.10,141.33 L100.41,138.30 L100.72,135.15 L101.02,131.89 L101.33,128.54 L101.64,125.11 L101.95,121.63 L102.25,118.12 L102.56,114.59 L102.87,111.07 L103.17,107.60 L103.48,104.19 L103.79,100.88 L104.09,97.68 L104.40,94.64 L104.71,91.78 L105.01,89.11 L105.32,86.68 L105.63,84.50 L105.93,82.59 L106.24,80.98 L106.55,79.67 L106.86,78.69 L107.16,78.04 L107.47,77.74 L107.78,77.77 L108.08,78.15 L108.39,78.86 L108.70,79.91 L109.00,81.28 L109.31,82.95 L109.62,84.91 L109.92,87.15 L110.23,89.63 L110.54,92.33 L110.84,95.24 L111.15,98.31 L111.46,101.53 L111.77,104.87 L112.07,108.29 L112.38,111.77 L112.69,115.29 L112.99,118.82 L113.30,122.33 L113.61,125.80 L113.91,129.22 L114.22,132.55 L114.53,135.79 L114.83,138.92 L115.14,141.92 L115.45,144.80 L115.75,147.53 L116.06,150.12 L116.37,152.55 L116.68,154.83 L116.98,156.96 L117.29,158.94 L117.60,160.77 L117.90,162.45 L118.21,163.99 L118.52,165.40 L118.82,166.68 L119.13,167.83 L119.44,168.88 L119.74,169.81 L120.05,170.64 L120.36,171.39 L120.66,172.04 L120.97,172.62 L121.28,173.13 L121.59,173.58 L121.89,173.97 L122.20,174.31 L122.51,174.60 L122.81,174.85 L123.12,175.07 L123.43,175.25 L123.73,175.41 L124.04,175.54 L124.35,175.66 L124.65,175.75 L124.96,175.83 L125.27,175.90 L125.57,175.95 L125.88,176.00 L126.19,176.04 L126.50,176.07 L126.80,176.09 L127.11,176.12 L127.42,176.13 L127.72,176.15 L128.03,176.16 L128.34,176.17 L128.64,176.17 L128.95,176.18 L129.26,176.18 L129.56,176.19 L129.87,176.19 L130.18,176.19 L130.48,176.19 L130.79,176.20 L131.10,176.20 L131.41,176.20 L131.71,176.20 L132.02,176.20 L132.33,176.20 L132.63,176.20 L132.94,176.20 L133.25,176.20 L133.55,176.20 L133.86,176.20 L134.17,176.20 L134.47,176.20 L134.78,176.20 L135.09,176.20 L135.39,176.20 L135.70,176.20 L136.01,176.20 L136.31,176.20 L136.62,176.20 L136.93,176.20 L137.24,176.20 L137.54,176.20 L137.85,176.20 L138.16,176.20 L138.46,176.20 L138.77,176.20 L139.08,176.20 L139.38,176.20 L139.69,176.20 L140.00,176.20 L140.30,176.20 L140.61,176.20 L140.92,176.20 L141.23,176.20 L141.53,176.20 L141.84,176.20 L142.15,176.20 L142.45,176.20 L142.76,176.20 L143.07,176.20 L143.37,176.20 L143.68,176.20 L143.99,176.20 L144.29,176.20 L144.60,176.20 L144.91,176.20 L145.21,176.20 L145.52,176.20 L145.83,176.20 L146.14,176.20 L146.44,176.20 L146.75,176.20 L147.06,176.20 L147.36,176.20 L147.67,176.20 L147.98,176.20 L148.28,176.20 L148.59,176.20 L148.90,176.20 L149.20,176.20 L149.51,176.20 L149.82,176.20 L150.12,176.20 L150.43,176.20 L150.74,176.20 L151.05,176.20 L151.35,176.20 L151.66,176.20 L151.97,176.20 L152.27,176.20 L152.58,176.20 L152.89,176.20 L153.19,176.20 L153.50,176.20" fill="none" stroke="#0000ff" stroke-width="2.0" stroke-linecap="round" stroke-linejoin="round"/>
<path d="M87.22,176.04 L94.31,174.11 L94.54,173.86 L94.77,173.57 L95.00,173.26 L95.23,172.92 L95.46,172.54 L95.69,172.12 L95.93,171.67 L96.16,171.17 L96.39,170.62 L96.62,170.02 L96.85,169.37 L97.08,168.66 L97.31,167.89 L97.54,167.05 L97.77,166.15 L98.00,165.17 L98.23,164.12 L98.46,162.93 L98.69,161.26 L98.93,159.44 L99.16,157.47 L99.39,155.34 L99.62,153.07 L99.85,150.65 L100.08,148.07 L100.31,145.35 L100.54,142.49 L100.77,139.50 L101.00,136.39 L101.23,133.16 L101.46,129.84 L101.69,126.42 L101.93,123.30 L102.16,121.01 L102.39,118.67 L102.62,116.29 L102.85,113.86 L103.08,111.39 L103.31,108.88 L103.54,106.34 L103.77,103.78 L104.00,101.19 L104.23,98.60 L104.46,95.99 L104.69,93.39 L104.93,90.80 L105.16,88.22 L105.39,85.68 L105.62,83.18 L105.85,80.73 L106.08,78.34 L106.31,76.04 L106.54,73.84 L106.77,71.75 L107.00,69.80 L107.23,68.02 L107.46,66.43 L107.69,65.09 L107.93,64.05 L108.16,63.50 L108.35,64.04 L108.55,65.07 L108.74,66.41 L108.94,68.00 L109.13,69.78 L109.32,71.74 L109.52,73.84 L109.71,76.05 L109.91,78.37 L110.10,80.77 L110.30,83.24 L110.49,85.76 L110.69,88.33 L110.88,90.92 L111.08,93.54 L111.27,96.17 L111.47,98.79 L111.66,101.42 L111.86,104.02 L112.05,106.61 L112.25,109.17 L112.44,111.70 L112.64,114.20 L112.83,116.65 L113.03,119.05 L113.22,121.41 L113.41,123.72 L113.61,126.10 L113.80,128.44 L114.00,130.71 L114.19,132.92 L114.39,135.07 L114.58,137.14 L114.78,139.16 L114.97,141.10 L115.17,142.97 L115.36,144.77 L115.56,146.51 L115.75,148.17 L115.95,149.77 L116.14,151.30 L116.34,152.76 L116.53,154.16 L116.73,155.49 L116.92,156.76 L117.12,157.96 L117.31,159.11 L117.50,160.20 L117.70,161.23 L117.89,162.21 L118.09,163.14 L118.28,164.46 L118.48,165.69 L118.67,166.82 L118.87,167.85 L119.06,168.79 L119.26,169.65 L119.45,170.43 L119.65,171.13 L119.84,171.76 L122.49,173.59 L128.21,176.04" fill="none" stroke="#ff0000" stroke-width="2.3" stroke-linecap="butt" stroke-linejoin="round"/>
<path d="M51.38,13.25 H157.50 V182.35 H51.38 Z M55.30,182.35 v7.30 M79.85,182.35 v7.30 M104.40,182.35 v7.30 M128.95,182.35 v7.30 M153.50,182.35 v7.30 M51.38,176.20 h-7.30 M51.38,150.07 h-7.30 M51.38,123.95 h-7.30 M51.38,97.82 h-7.30 M51.38,71.70 h-7.30 M51.38,45.57 h-7.30 M51.38,19.45 h-7.30" fill="none" stroke="#000" stroke-width="1.3"/>
<g transform="translate(55.30,206.8) scale(0.98,1.06) translate(-11.40,0)"><text x="0.00" y="2.10" style="font-size:20px">−</text><text x="11.68" y="0.00" style="font-size:20px">2</text></g>
<g transform="translate(104.40,206.8) scale(0.98,1.06) translate(-5.56,0)"><text x="0.00" y="0.00" style="font-size:20px">0</text></g>
<g transform="translate(153.50,206.8) scale(0.98,1.06) translate(-5.56,0)"><text x="0.00" y="0.00" style="font-size:20px">2</text></g>
<g transform="translate(35.9,176.20) rotate(-90) scale(1,1.05) translate(-13.90,0)"><text x="0.00" y="0.00" style="font-size:20px">0</text><text x="11.12" y="0.00" style="font-size:20px">.</text><text x="16.68" y="0.00" style="font-size:20px">0</text></g>
<g transform="translate(35.9,123.95) rotate(-90) scale(1,1.05) translate(-13.90,0)"><path d="M763 0H583V1147Q518 1085 412.5 1023T223 930V1104Q373 1174.5 485 1275T644 1469H763Z" transform="translate(0.00,0.00) scale(0.00977,-0.00933)" fill="#000"/><text x="11.12" y="0.00" style="font-size:20px">.</text><text x="16.68" y="0.00" style="font-size:20px">0</text></g>
<g transform="translate(35.9,71.70) rotate(-90) scale(1,1.05) translate(-13.90,0)"><text x="0.00" y="0.00" style="font-size:20px">2</text><text x="11.12" y="0.00" style="font-size:20px">.</text><text x="16.68" y="0.00" style="font-size:20px">0</text></g>
<g transform="translate(35.9,19.45) rotate(-90) scale(1,1.05) translate(-13.90,0)"><text x="0.00" y="0.00" style="font-size:20px">3</text><text x="11.12" y="0.00" style="font-size:20px">.</text><text x="16.68" y="0.00" style="font-size:20px">0</text></g>
<g transform="translate(104.70,229.6) translate(-9.34,0)"><text x="0.00" y="0.00" style="font-size:20px">u</text><text x="11.12" y="3.40" style="font-size:13.6px">5</text></g>
</g>
<g transform="translate(170.25,236.00)">
<path d="M55.30,176.20 L55.61,176.20 L55.91,176.20 L56.22,176.20 L56.53,176.20 L56.83,176.20 L57.14,176.20 L57.45,176.20 L57.76,176.20 L58.06,176.20 L58.37,176.20 L58.68,176.20 L58.98,176.20 L59.29,176.20 L59.60,176.20 L59.90,176.20 L60.21,176.20 L60.52,176.20 L60.82,176.20 L61.13,176.20 L61.44,176.20 L61.74,176.20 L62.05,176.20 L62.36,176.20 L62.67,176.20 L62.97,176.20 L63.28,176.20 L63.59,176.20 L63.89,176.20 L64.20,176.20 L64.51,176.20 L64.81,176.20 L65.12,176.20 L65.43,176.20 L65.73,176.20 L66.04,176.20 L66.35,176.20 L66.65,176.20 L66.96,176.20 L67.27,176.20 L67.58,176.20 L67.88,176.20 L68.19,176.20 L68.50,176.20 L68.80,176.20 L69.11,176.20 L69.42,176.20 L69.72,176.20 L70.03,176.20 L70.34,176.20 L70.64,176.20 L70.95,176.20 L71.26,176.20 L71.56,176.20 L71.87,176.20 L72.18,176.20 L72.48,176.20 L72.79,176.20 L73.10,176.20 L73.41,176.20 L73.71,176.20 L74.02,176.20 L74.33,176.20 L74.63,176.20 L74.94,176.20 L75.25,176.20 L75.55,176.20 L75.86,176.20 L76.17,176.20 L76.47,176.20 L76.78,176.20 L77.09,176.20 L77.40,176.20 L77.70,176.20 L78.01,176.20 L78.32,176.20 L78.62,176.20 L78.93,176.20 L79.24,176.20 L79.54,176.20 L79.85,176.19 L80.16,176.19 L80.46,176.19 L80.77,176.18 L81.08,176.18 L81.38,176.17 L81.69,176.16 L82.00,176.15 L82.31,176.14 L82.61,176.12 L82.92,176.09 L83.23,176.06 L83.53,176.02 L83.84,175.97 L84.15,175.91 L84.45,175.83 L84.76,175.74 L85.07,175.62 L85.37,175.47 L85.68,175.30 L85.99,175.09 L86.29,174.83 L86.60,174.53 L86.91,174.16 L87.22,173.73 L87.52,173.22 L87.83,172.63 L88.14,171.93 L88.44,171.12 L88.75,170.19 L89.06,169.11 L89.36,167.89 L89.67,166.50 L89.98,164.93 L90.28,163.17 L90.59,161.20 L90.90,159.02 L91.20,156.62 L91.51,153.98 L91.82,151.10 L92.12,147.98 L92.43,144.63 L92.74,141.04 L93.05,137.23 L93.35,133.21 L93.66,128.99 L93.97,124.61 L94.27,120.08 L94.58,115.44 L94.89,110.72 L95.19,105.97 L95.50,101.23 L95.81,96.55 L96.11,91.96 L96.42,87.54 L96.73,83.31 L97.04,79.35 L97.34,75.68 L97.65,72.37 L97.96,69.45 L98.26,66.96 L98.57,64.94 L98.88,63.41 L99.18,62.40 L99.49,61.92 L99.80,61.97 L100.10,62.56 L100.41,63.68 L100.72,65.31 L101.02,67.42 L101.33,70.00 L101.64,73.00 L101.95,76.39 L102.25,80.12 L102.56,84.14 L102.87,88.41 L103.17,92.87 L103.48,97.48 L103.79,102.18 L104.09,106.92 L104.40,111.67 L104.71,116.37 L105.01,120.99 L105.32,125.49 L105.63,129.85 L105.93,134.03 L106.24,138.01 L106.55,141.78 L106.86,145.32 L107.16,148.62 L107.47,151.69 L107.78,154.52 L108.08,157.11 L108.39,159.48 L108.70,161.61 L109.00,163.54 L109.31,165.26 L109.62,166.79 L109.92,168.15 L110.23,169.34 L110.54,170.38 L110.84,171.29 L111.15,172.08 L111.46,172.75 L111.77,173.33 L112.07,173.82 L112.38,174.24 L112.69,174.59 L112.99,174.89 L113.30,175.13 L113.61,175.34 L113.91,175.51 L114.22,175.64 L114.53,175.76 L114.83,175.85 L115.14,175.92 L115.45,175.98 L115.75,176.03 L116.06,176.07 L116.37,176.10 L116.68,176.12 L116.98,176.14 L117.29,176.15 L117.60,176.16 L117.90,176.17 L118.21,176.18 L118.52,176.18 L118.82,176.19 L119.13,176.19 L119.44,176.19 L119.74,176.20 L120.05,176.20 L120.36,176.20 L120.66,176.20 L120.97,176.20 L121.28,176.20 L121.59,176.20 L121.89,176.20 L122.20,176.20 L122.51,176.20 L122.81,176.20 L123.12,176.20 L123.43,176.20 L123.73,176.20 L124.04,176.20 L124.35,176.20 L124.65,176.20 L124.96,176.20 L125.27,176.20 L125.57,176.20 L125.88,176.20 L126.19,176.20 L126.50,176.20 L126.80,176.20 L127.11,176.20 L127.42,176.20 L127.72,176.20 L128.03,176.20 L128.34,176.20 L128.64,176.20 L128.95,176.20 L129.26,176.20 L129.56,176.20 L129.87,176.20 L130.18,176.20 L130.48,176.20 L130.79,176.20 L131.10,176.20 L131.41,176.20 L131.71,176.20 L132.02,176.20 L132.33,176.20 L132.63,176.20 L132.94,176.20 L133.25,176.20 L133.55,176.20 L133.86,176.20 L134.17,176.20 L134.47,176.20 L134.78,176.20 L135.09,176.20 L135.39,176.20 L135.70,176.20 L136.01,176.20 L136.31,176.20 L136.62,176.20 L136.93,176.20 L137.24,176.20 L137.54,176.20 L137.85,176.20 L138.16,176.20 L138.46,176.20 L138.77,176.20 L139.08,176.20 L139.38,176.20 L139.69,176.20 L140.00,176.20 L140.30,176.20 L140.61,176.20 L140.92,176.20 L141.23,176.20 L141.53,176.20 L141.84,176.20 L142.15,176.20 L142.45,176.20 L142.76,176.20 L143.07,176.20 L143.37,176.20 L143.68,176.20 L143.99,176.20 L144.29,176.20 L144.60,176.20 L144.91,176.20 L145.21,176.20 L145.52,176.20 L145.83,176.20 L146.14,176.20 L146.44,176.20 L146.75,176.20 L147.06,176.20 L147.36,176.20 L147.67,176.20 L147.98,176.20 L148.28,176.20 L148.59,176.20 L148.90,176.20 L149.20,176.20 L149.51,176.20 L149.82,176.20 L150.12,176.20 L150.43,176.20 L150.74,176.20 L151.05,176.20 L151.35,176.20 L151.66,176.20 L151.97,176.20 L152.27,176.20 L152.58,176.20 L152.89,176.20 L153.19,176.20 L153.50,176.20" fill="none" stroke="#0000ff" stroke-width="2.0" stroke-linecap="round" stroke-linejoin="round"/>
<path d="M81.91,176.04 L87.36,175.16 L87.58,175.00 L87.79,174.82 L88.00,174.62 L88.21,174.39 L88.43,174.13 L88.64,173.84 L88.85,173.52 L89.06,173.16 L89.28,172.75 L89.49,172.30 L89.70,171.79 L89.92,171.23 L90.13,170.61 L90.34,169.93 L90.55,169.17 L90.77,168.33 L90.98,167.42 L91.19,166.42 L91.40,165.32 L91.62,164.13 L91.83,162.77 L92.04,161.10 L92.26,159.28 L92.47,157.30 L92.68,155.16 L92.89,152.85 L93.11,150.37 L93.32,147.72 L93.53,144.91 L93.75,141.92 L93.96,138.77 L94.17,135.46 L94.38,132.00 L94.60,128.41 L94.81,124.68 L95.02,120.94 L95.23,117.12 L95.45,113.23 L95.66,109.27 L95.87,105.26 L96.09,101.23 L96.30,97.20 L96.51,93.19 L96.72,89.23 L96.94,85.34 L97.15,81.55 L97.36,77.88 L97.58,74.36 L97.79,71.01 L98.00,67.87 L98.21,64.95 L98.43,62.27 L98.64,59.86 L98.85,57.73 L99.06,55.90 L99.28,54.39 L99.49,53.21 L99.70,52.36 L99.92,51.86 L100.13,51.69 L100.31,51.70 L100.50,51.78 L100.68,51.94 L100.86,52.22 L101.05,52.64 L101.23,53.22 L101.41,53.97 L101.60,54.90 L101.78,56.03 L101.97,57.36 L102.15,58.91 L102.33,60.68 L102.52,62.66 L102.70,64.87 L102.88,67.29 L103.07,69.92 L103.25,72.76 L103.44,75.78 L103.62,79.21 L103.80,83.15 L103.99,87.32 L104.17,91.69 L104.35,96.23 L104.54,100.90 L104.72,105.67 L104.90,110.50 L105.09,115.34 L105.27,120.16 L105.46,124.57 L105.64,127.56 L105.82,130.48 L106.01,133.29 L106.19,136.01 L106.37,138.63 L106.56,141.15 L106.74,143.55 L106.93,145.85 L107.11,148.04 L107.29,150.13 L107.48,152.10 L107.66,153.96 L107.84,155.72 L108.03,157.38 L108.21,158.93 L108.40,160.38 L108.58,161.74 L108.76,163.01 L108.95,164.23 L109.13,165.37 L109.31,166.42 L109.50,167.39 L109.68,168.28 L109.87,169.09 L110.05,169.84 L110.23,170.51 L110.42,171.13 L110.60,171.69 L110.78,172.20 L110.97,172.65 L111.15,173.06 L117.14,176.04" fill="none" stroke="#ff0000" stroke-width="2.3" stroke-linecap="butt" stroke-linejoin="round"/>
<path d="M51.38,13.25 H157.50 V182.35 H51.38 Z M55.30,182.35 v7.30 M79.85,182.35 v7.30 M104.40,182.35 v7.30 M128.95,182.35 v7.30 M153.50,182.35 v7.30 M51.38,176.20 h-7.30 M51.38,150.07 h-7.30 M51.38,123.95 h-7.30 M51.38,97.82 h-7.30 M51.38,71.70 h-7.30 M51.38,45.57 h-7.30 M51.38,19.45 h-7.30" fill="none" stroke="#000" stroke-width="1.3"/>
<g transform="translate(55.30,206.8) scale(0.98,1.06) translate(-11.40,0)"><text x="0.00" y="2.10" style="font-size:20px">−</text><text x="11.68" y="0.00" style="font-size:20px">2</text></g>
<g transform="translate(104.40,206.8) scale(0.98,1.06) translate(-5.56,0)"><text x="0.00" y="0.00" style="font-size:20px">0</text></g>
<g transform="translate(153.50,206.8) scale(0.98,1.06) translate(-5.56,0)"><text x="0.00" y="0.00" style="font-size:20px">2</text></g>
<g transform="translate(35.9,176.20) rotate(-90) scale(1,1.05) translate(-13.90,0)"><text x="0.00" y="0.00" style="font-size:20px">0</text><text x="11.12" y="0.00" style="font-size:20px">.</text><text x="16.68" y="0.00" style="font-size:20px">0</text></g>
<g transform="translate(35.9,123.95) rotate(-90) scale(1,1.05) translate(-13.90,0)"><path d="M763 0H583V1147Q518 1085 412.5 1023T223 930V1104Q373 1174.5 485 1275T644 1469H763Z" transform="translate(0.00,0.00) scale(0.00977,-0.00933)" fill="#000"/><text x="11.12" y="0.00" style="font-size:20px">.</text><text x="16.68" y="0.00" style="font-size:20px">0</text></g>
<g transform="translate(35.9,71.70) rotate(-90) scale(1,1.05) translate(-13.90,0)"><text x="0.00" y="0.00" style="font-size:20px">2</text><text x="11.12" y="0.00" style="font-size:20px">.</text><text x="16.68" y="0.00" style="font-size:20px">0</text></g>
<g transform="translate(35.9,19.45) rotate(-90) scale(1,1.05) translate(-13.90,0)"><text x="0.00" y="0.00" style="font-size:20px">3</text><text x="11.12" y="0.00" style="font-size:20px">.</text><text x="16.68" y="0.00" style="font-size:20px">0</text></g>
<g transform="translate(104.70,229.6) translate(-9.34,0)"><text x="0.00" y="0.00" style="font-size:20px">u</text><text x="11.12" y="3.40" style="font-size:13.6px">6</text></g>
</g>
<g transform="translate(340.50,236.00)">
<path d="M55.30,176.20 L55.61,176.20 L55.91,176.20 L56.22,176.20 L56.53,176.20 L56.83,176.20 L57.14,176.20 L57.45,176.20 L57.76,176.20 L58.06,176.20 L58.37,176.20 L58.68,176.20 L58.98,176.20 L59.29,176.20 L59.60,176.20 L59.90,176.20 L60.21,176.20 L60.52,176.20 L60.82,176.20 L61.13,176.20 L61.44,176.20 L61.74,176.20 L62.05,176.20 L62.36,176.20 L62.67,176.20 L62.97,176.20 L63.28,176.20 L63.59,176.20 L63.89,176.20 L64.20,176.20 L64.51,176.20 L64.81,176.20 L65.12,176.20 L65.43,176.20 L65.73,176.20 L66.04,176.20 L66.35,176.20 L66.65,176.20 L66.96,176.20 L67.27,176.20 L67.58,176.20 L67.88,176.20 L68.19,176.20 L68.50,176.20 L68.80,176.20 L69.11,176.20 L69.42,176.20 L69.72,176.20 L70.03,176.20 L70.34,176.20 L70.64,176.20 L70.95,176.20 L71.26,176.20 L71.56,176.20 L71.87,176.20 L72.18,176.20 L72.48,176.20 L72.79,176.20 L73.10,176.20 L73.41,176.20 L73.71,176.20 L74.02,176.20 L74.33,176.20 L74.63,176.20 L74.94,176.20 L75.25,176.20 L75.55,176.20 L75.86,176.20 L76.17,176.20 L76.47,176.19 L76.78,176.19 L77.09,176.19 L77.40,176.19 L77.70,176.19 L78.01,176.18 L78.32,176.18 L78.62,176.17 L78.93,176.16 L79.24,176.15 L79.54,176.14 L79.85,176.12 L80.16,176.10 L80.46,176.08 L80.77,176.05 L81.08,176.01 L81.38,175.97 L81.69,175.92 L82.00,175.86 L82.31,175.78 L82.61,175.69 L82.92,175.58 L83.23,175.46 L83.53,175.31 L83.84,175.13 L84.15,174.92 L84.45,174.68 L84.76,174.40 L85.07,174.07 L85.37,173.69 L85.68,173.26 L85.99,172.76 L86.29,172.19 L86.60,171.55 L86.91,170.82 L87.22,170.00 L87.52,169.09 L87.83,168.06 L88.14,166.92 L88.44,165.65 L88.75,164.26 L89.06,162.73 L89.36,161.06 L89.67,159.24 L89.98,157.26 L90.28,155.14 L90.59,152.85 L90.90,150.41 L91.20,147.82 L91.51,145.08 L91.82,142.19 L92.12,139.16 L92.43,136.01 L92.74,132.74 L93.05,129.37 L93.35,125.92 L93.66,122.41 L93.97,118.86 L94.27,115.28 L94.58,111.71 L94.89,108.17 L95.19,104.69 L95.50,101.30 L95.81,98.03 L96.11,94.90 L96.42,91.94 L96.73,89.19 L97.04,86.66 L97.34,84.38 L97.65,82.38 L97.96,80.67 L98.26,79.28 L98.57,78.21 L98.88,77.48 L99.18,77.09 L99.49,77.06 L99.80,77.37 L100.10,78.03 L100.41,79.04 L100.72,80.37 L101.02,82.01 L101.33,83.96 L101.64,86.18 L101.95,88.66 L102.25,91.37 L102.56,94.29 L102.87,97.39 L103.17,100.64 L103.48,104.01 L103.79,107.47 L104.09,111.00 L104.40,114.56 L104.71,118.14 L105.01,121.70 L105.32,125.23 L105.63,128.69 L105.93,132.08 L106.24,135.36 L106.55,138.54 L106.86,141.59 L107.16,144.51 L107.47,147.28 L107.78,149.91 L108.08,152.38 L108.39,154.69 L108.70,156.85 L109.00,158.85 L109.31,160.70 L109.62,162.41 L109.92,163.97 L110.23,165.39 L110.54,166.68 L110.84,167.84 L111.15,168.89 L111.46,169.83 L111.77,170.67 L112.07,171.41 L112.38,172.07 L112.69,172.65 L112.99,173.16 L113.30,173.61 L113.61,174.00 L113.91,174.33 L114.22,174.62 L114.53,174.87 L114.83,175.09 L115.14,175.27 L115.45,175.43 L115.75,175.56 L116.06,175.67 L116.37,175.76 L116.68,175.84 L116.98,175.91 L117.29,175.96 L117.60,176.01 L117.90,176.04 L118.21,176.07 L118.52,176.10 L118.82,176.12 L119.13,176.14 L119.44,176.15 L119.74,176.16 L120.05,176.17 L120.36,176.17 L120.66,176.18 L120.97,176.18 L121.28,176.19 L121.59,176.19 L121.89,176.19 L122.20,176.19 L122.51,176.20 L122.81,176.20 L123.12,176.20 L123.43,176.20 L123.73,176.20 L124.04,176.20 L124.35,176.20 L124.65,176.20 L124.96,176.20 L125.27,176.20 L125.57,176.20 L125.88,176.20 L126.19,176.20 L126.50,176.20 L126.80,176.20 L127.11,176.20 L127.42,176.20 L127.72,176.20 L128.03,176.20 L128.34,176.20 L128.64,176.20 L128.95,176.20 L129.26,176.20 L129.56,176.20 L129.87,176.20 L130.18,176.20 L130.48,176.20 L130.79,176.20 L131.10,176.20 L131.41,176.20 L131.71,176.20 L132.02,176.20 L132.33,176.20 L132.63,176.20 L132.94,176.20 L133.25,176.20 L133.55,176.20 L133.86,176.20 L134.17,176.20 L134.47,176.20 L134.78,176.20 L135.09,176.20 L135.39,176.20 L135.70,176.20 L136.01,176.20 L136.31,176.20 L136.62,176.20 L136.93,176.20 L137.24,176.20 L137.54,176.20 L137.85,176.20 L138.16,176.20 L138.46,176.20 L138.77,176.20 L139.08,176.20 L139.38,176.20 L139.69,176.20 L140.00,176.20 L140.30,176.20 L140.61,176.20 L140.92,176.20 L141.23,176.20 L141.53,176.20 L141.84,176.20 L142.15,176.20 L142.45,176.20 L142.76,176.20 L143.07,176.20 L143.37,176.20 L143.68,176.20 L143.99,176.20 L144.29,176.20 L144.60,176.20 L144.91,176.20 L145.21,176.20 L145.52,176.20 L145.83,176.20 L146.14,176.20 L146.44,176.20 L146.75,176.20 L147.06,176.20 L147.36,176.20 L147.67,176.20 L147.98,176.20 L148.28,176.20 L148.59,176.20 L148.90,176.20 L149.20,176.20 L149.51,176.20 L149.82,176.20 L150.12,176.20 L150.43,176.20 L150.74,176.20 L151.05,176.20 L151.35,176.20 L151.66,176.20 L151.97,176.20 L152.27,176.20 L152.58,176.20 L152.89,176.20 L153.19,176.20 L153.50,176.20" fill="none" stroke="#0000ff" stroke-width="2.0" stroke-linecap="round" stroke-linejoin="round"/>
<path d="M77.00,176.04 L82.72,175.68 L88.00,170.82 L88.20,170.46 L88.40,170.08 L88.59,169.68 L88.79,169.25 L88.99,168.80 L89.19,168.32 L89.39,167.81 L89.58,167.27 L89.78,166.70 L89.98,166.10 L90.18,165.47 L90.38,164.79 L90.58,164.08 L90.77,163.34 L90.97,162.23 L91.17,160.94 L91.37,159.55 L91.57,158.08 L91.76,156.52 L91.96,154.86 L92.16,153.10 L92.36,151.25 L92.56,149.31 L92.75,147.26 L92.95,145.13 L93.15,142.89 L93.35,140.57 L93.55,138.16 L93.74,135.66 L93.94,133.08 L94.14,130.43 L94.34,127.71 L94.54,124.93 L94.73,121.67 L94.93,118.15 L95.13,114.61 L95.33,111.08 L95.53,107.57 L95.72,104.11 L95.92,100.72 L96.12,97.41 L96.32,94.21 L96.52,91.14 L96.71,88.21 L96.91,85.44 L97.11,82.84 L97.31,80.43 L97.51,78.22 L97.70,76.20 L97.90,74.40 L98.10,72.81 L98.30,71.42 L98.50,70.25 L98.69,69.28 L98.89,68.51 L99.09,67.93 L99.29,67.52 L99.49,67.26 L99.68,67.13 L99.88,67.10 L100.07,67.12 L100.26,67.20 L100.46,67.37 L100.65,67.65 L100.84,68.05 L101.03,68.60 L101.22,69.29 L101.41,70.14 L101.60,71.17 L101.79,72.36 L101.98,73.73 L102.18,75.27 L102.37,77.00 L102.56,78.90 L102.75,80.97 L102.94,83.21 L103.13,85.60 L103.32,88.15 L103.51,90.84 L103.70,93.65 L103.90,96.58 L104.09,99.62 L104.28,102.73 L104.47,105.92 L104.66,109.16 L104.85,112.44 L105.04,115.73 L105.23,119.03 L105.42,122.32 L105.62,125.22 L105.81,127.71 L106.00,130.16 L106.19,132.55 L106.38,134.88 L106.57,137.14 L106.76,139.34 L106.95,141.47 L107.14,143.53 L107.33,145.51 L107.53,147.41 L107.72,149.24 L107.91,151.00 L108.10,152.67 L108.29,154.27 L108.48,155.79 L108.67,157.23 L108.86,158.60 L109.05,159.89 L109.25,161.11 L109.44,162.26 L109.63,163.36 L109.82,164.46 L110.01,165.48 L110.20,166.43 L110.39,167.31 L110.58,168.13 L110.77,168.88 L110.97,169.58 L111.16,170.23 L111.35,170.82 L115.30,175.26 L119.28,176.04" fill="none" stroke="#ff0000" stroke-width="2.3" stroke-linecap="butt" stroke-linejoin="round"/>
<path d="M51.38,13.25 H157.50 V182.35 H51.38 Z M55.30,182.35 v7.30 M79.85,182.35 v7.30 M104.40,182.35 v7.30 M128.95,182.35 v7.30 M153.50,182.35 v7.30 M51.38,176.20 h-7.30 M51.38,150.07 h-7.30 M51.38,123.95 h-7.30 M51.38,97.82 h-7.30 M51.38,71.70 h-7.30 M51.38,45.57 h-7.30 M51.38,19.45 h-7.30" fill="none" stroke="#000" stroke-width="1.3"/>
<g transform="translate(55.30,206.8) scale(0.98,1.06) translate(-11.40,0)"><text x="0.00" y="2.10" style="font-size:20px">−</text><text x="11.68" y="0.00" style="font-size:20px">2</text></g>
<g transform="translate(104.40,206.8) scale(0.98,1.06) translate(-5.56,0)"><text x="0.00" y="0.00" style="font-size:20px">0</text></g>
<g transform="translate(153.50,206.8) scale(0.98,1.06) translate(-5.56,0)"><text x="0.00" y="0.00" style="font-size:20px">2</text></g>
<g transform="translate(35.9,176.20) rotate(-90) scale(1,1.05) translate(-13.90,0)"><text x="0.00" y="0.00" style="font-size:20px">0</text><text x="11.12" y="0.00" style="font-size:20px">.</text><text x="16.68" y="0.00" style="font-size:20px">0</text></g>
<g transform="translate(35.9,123.95) rotate(-90) scale(1,1.05) translate(-13.90,0)"><path d="M763 0H583V1147Q518 1085 412.5 1023T223 930V1104Q373 1174.5 485 1275T644 1469H763Z" transform="translate(0.00,0.00) scale(0.00977,-0.00933)" fill="#000"/><text x="11.12" y="0.00" style="font-size:20px">.</text><text x="16.68" y="0.00" style="font-size:20px">0</text></g>
<g transform="translate(35.9,71.70) rotate(-90) scale(1,1.05) translate(-13.90,0)"><text x="0.00" y="0.00" style="font-size:20px">2</text><text x="11.12" y="0.00" style="font-size:20px">.</text><text x="16.68" y="0.00" style="font-size:20px">0</text></g>
<g transform="translate(35.9,19.45) rotate(-90) scale(1,1.05) translate(-13.90,0)"><text x="0.00" y="0.00" style="font-size:20px">3</text><text x="11.12" y="0.00" style="font-size:20px">.</text><text x="16.68" y="0.00" style="font-size:20px">0</text></g>
<g transform="translate(104.70,229.6) translate(-9.34,0)"><text x="0.00" y="0.00" style="font-size:20px">u</text><text x="11.12" y="3.40" style="font-size:13.6px">7</text></g>
</g>
<g transform="translate(510.75,236.00)">
<path d="M55.30,176.20 L55.61,176.20 L55.91,176.20 L56.22,176.20 L56.53,176.20 L56.83,176.20 L57.14,176.20 L57.45,176.20 L57.76,176.20 L58.06,176.20 L58.37,176.20 L58.68,176.20 L58.98,176.20 L59.29,176.20 L59.60,176.20 L59.90,176.20 L60.21,176.20 L60.52,176.20 L60.82,176.20 L61.13,176.20 L61.44,176.20 L61.74,176.20 L62.05,176.20 L62.36,176.20 L62.67,176.20 L62.97,176.20 L63.28,176.20 L63.59,176.20 L63.89,176.20 L64.20,176.20 L64.51,176.20 L64.81,176.20 L65.12,176.20 L65.43,176.20 L65.73,176.20 L66.04,176.20 L66.35,176.20 L66.65,176.20 L66.96,176.20 L67.27,176.20 L67.58,176.20 L67.88,176.20 L68.19,176.20 L68.50,176.20 L68.80,176.20 L69.11,176.20 L69.42,176.20 L69.72,176.20 L70.03,176.20 L70.34,176.20 L70.64,176.20 L70.95,176.20 L71.26,176.20 L71.56,176.20 L71.87,176.20 L72.18,176.20 L72.48,176.20 L72.79,176.20 L73.10,176.20 L73.41,176.20 L73.71,176.20 L74.02,176.20 L74.33,176.20 L74.63,176.20 L74.94,176.20 L75.25,176.20 L75.55,176.20 L75.86,176.20 L76.17,176.20 L76.47,176.20 L76.78,176.20 L77.09,176.20 L77.40,176.20 L77.70,176.20 L78.01,176.20 L78.32,176.20 L78.62,176.20 L78.93,176.20 L79.24,176.20 L79.54,176.20 L79.85,176.20 L80.16,176.20 L80.46,176.20 L80.77,176.20 L81.08,176.20 L81.38,176.20 L81.69,176.19 L82.00,176.19 L82.31,176.19 L82.61,176.19 L82.92,176.18 L83.23,176.17 L83.53,176.17 L83.84,176.15 L84.15,176.14 L84.45,176.12 L84.76,176.10 L85.07,176.06 L85.37,176.02 L85.68,175.97 L85.99,175.90 L86.29,175.82 L86.60,175.71 L86.91,175.58 L87.22,175.42 L87.52,175.23 L87.83,174.99 L88.14,174.69 L88.44,174.34 L88.75,173.91 L89.06,173.40 L89.36,172.80 L89.67,172.09 L89.98,171.25 L90.28,170.28 L90.59,169.15 L90.90,167.85 L91.20,166.36 L91.51,164.66 L91.82,162.75 L92.12,160.59 L92.43,158.19 L92.74,155.52 L93.05,152.58 L93.35,149.36 L93.66,145.87 L93.97,142.09 L94.27,138.05 L94.58,133.75 L94.89,129.21 L95.19,124.45 L95.50,119.51 L95.81,114.42 L96.11,109.22 L96.42,103.96 L96.73,98.70 L97.04,93.48 L97.34,88.37 L97.65,83.43 L97.96,78.72 L98.26,74.31 L98.57,70.25 L98.88,66.60 L99.18,63.41 L99.49,60.73 L99.80,58.61 L100.10,57.06 L100.41,56.13 L100.72,55.82 L101.02,56.13 L101.33,57.06 L101.64,58.61 L101.95,60.73 L102.25,63.41 L102.56,66.60 L102.87,70.25 L103.17,74.31 L103.48,78.72 L103.79,83.43 L104.09,88.37 L104.40,93.48 L104.71,98.70 L105.01,103.96 L105.32,109.22 L105.63,114.42 L105.93,119.51 L106.24,124.45 L106.55,129.21 L106.86,133.75 L107.16,138.05 L107.47,142.09 L107.78,145.87 L108.08,149.36 L108.39,152.58 L108.70,155.52 L109.00,158.19 L109.31,160.59 L109.62,162.75 L109.92,164.66 L110.23,166.36 L110.54,167.85 L110.84,169.15 L111.15,170.28 L111.46,171.25 L111.77,172.09 L112.07,172.80 L112.38,173.40 L112.69,173.91 L112.99,174.34 L113.30,174.69 L113.61,174.99 L113.91,175.23 L114.22,175.42 L114.53,175.58 L114.83,175.71 L115.14,175.82 L115.45,175.90 L115.75,175.97 L116.06,176.02 L116.37,176.06 L116.68,176.10 L116.98,176.12 L117.29,176.14 L117.60,176.15 L117.90,176.17 L118.21,176.17 L118.52,176.18 L118.82,176.19 L119.13,176.19 L119.44,176.19 L119.74,176.19 L120.05,176.20 L120.36,176.20 L120.66,176.20 L120.97,176.20 L121.28,176.20 L121.59,176.20 L121.89,176.20 L122.20,176.20 L122.51,176.20 L122.81,176.20 L123.12,176.20 L123.43,176.20 L123.73,176.20 L124.04,176.20 L124.35,176.20 L124.65,176.20 L124.96,176.20 L125.27,176.20 L125.57,176.20 L125.88,176.20 L126.19,176.20 L126.50,176.20 L126.80,176.20 L127.11,176.20 L127.42,176.20 L127.72,176.20 L128.03,176.20 L128.34,176.20 L128.64,176.20 L128.95,176.20 L129.26,176.20 L129.56,176.20 L129.87,176.20 L130.18,176.20 L130.48,176.20 L130.79,176.20 L131.10,176.20 L131.41,176.20 L131.71,176.20 L132.02,176.20 L132.33,176.20 L132.63,176.20 L132.94,176.20 L133.25,176.20 L133.55,176.20 L133.86,176.20 L134.17,176.20 L134.47,176.20 L134.78,176.20 L135.09,176.20 L135.39,176.20 L135.70,176.20 L136.01,176.20 L136.31,176.20 L136.62,176.20 L136.93,176.20 L137.24,176.20 L137.54,176.20 L137.85,176.20 L138.16,176.20 L138.46,176.20 L138.77,176.20 L139.08,176.20 L139.38,176.20 L139.69,176.20 L140.00,176.20 L140.30,176.20 L140.61,176.20 L140.92,176.20 L141.23,176.20 L141.53,176.20 L141.84,176.20 L142.15,176.20 L142.45,176.20 L142.76,176.20 L143.07,176.20 L143.37,176.20 L143.68,176.20 L143.99,176.20 L144.29,176.20 L144.60,176.20 L144.91,176.20 L145.21,176.20 L145.52,176.20 L145.83,176.20 L146.14,176.20 L146.44,176.20 L146.75,176.20 L147.06,176.20 L147.36,176.20 L147.67,176.20 L147.98,176.20 L148.28,176.20 L148.59,176.20 L148.90,176.20 L149.20,176.20 L149.51,176.20 L149.82,176.20 L150.12,176.20 L150.43,176.20 L150.74,176.20 L151.05,176.20 L151.35,176.20 L151.66,176.20 L151.97,176.20 L152.27,176.20 L152.58,176.20 L152.89,176.20 L153.19,176.20 L153.50,176.20" fill="none" stroke="#0000ff" stroke-width="2.0" stroke-linecap="round" stroke-linejoin="round"/>
<path d="M85.35,176.04 L89.74,174.63 L89.93,174.42 L90.12,174.18 L90.31,173.91 L90.50,173.61 L90.69,173.28 L90.88,172.91 L91.07,172.49 L91.26,172.04 L91.45,171.53 L91.64,170.97 L91.83,170.35 L92.02,169.66 L92.21,168.91 L92.40,168.09 L92.59,167.19 L92.77,166.21 L92.96,165.13 L93.15,163.96 L93.34,162.62 L93.53,161.00 L93.72,159.23 L93.91,157.31 L94.10,155.23 L94.29,152.99 L94.48,150.58 L94.67,148.00 L94.86,145.24 L95.05,142.31 L95.24,139.21 L95.43,135.93 L95.62,132.49 L95.81,128.88 L96.00,125.12 L96.18,122.02 L96.37,119.15 L96.56,116.18 L96.75,113.12 L96.94,109.95 L97.13,106.70 L97.32,103.35 L97.51,99.91 L97.70,96.39 L97.89,92.80 L98.08,89.14 L98.27,85.42 L98.46,81.64 L98.65,77.83 L98.84,74.00 L99.03,70.15 L99.22,66.31 L99.41,62.50 L99.59,58.73 L99.78,55.05 L99.97,51.47 L100.16,48.04 L100.35,44.80 L100.54,41.82 L100.73,39.18 L100.92,37.01 L101.11,35.70 L101.31,35.86 L101.51,36.36 L101.71,37.23 L101.91,38.46 L102.11,40.06 L102.31,42.01 L102.51,44.31 L102.71,46.93 L102.91,49.87 L103.11,53.10 L103.31,56.60 L103.51,60.35 L103.71,64.30 L103.91,68.45 L104.11,72.75 L104.31,77.18 L104.50,81.70 L104.70,86.30 L104.90,90.93 L105.10,95.57 L105.30,100.19 L105.50,104.76 L105.70,109.27 L105.90,113.69 L106.10,118.00 L106.30,122.18 L106.50,125.89 L106.70,129.23 L106.90,132.43 L107.10,135.48 L107.30,138.40 L107.50,141.17 L107.70,143.80 L107.90,146.29 L108.10,148.64 L108.30,150.85 L108.50,152.93 L108.70,154.87 L108.90,156.69 L109.10,158.38 L109.30,159.96 L109.50,161.42 L109.70,162.78 L109.90,164.12 L110.10,165.38 L110.30,166.53 L110.49,167.58 L110.69,168.53 L110.89,169.39 L111.09,170.17 L111.29,170.88 L111.49,171.51 L111.69,172.08 L111.89,172.58 L112.09,173.04 L112.29,173.44 L112.49,173.79 L112.69,174.11 L112.89,174.39 L113.09,174.63 L120.14,176.04" fill="none" stroke="#ff0000" stroke-width="2.3" stroke-linecap="butt" stroke-linejoin="round"/>
<path d="M51.38,13.25 H157.50 V182.35 H51.38 Z M55.30,182.35 v7.30 M79.85,182.35 v7.30 M104.40,182.35 v7.30 M128.95,182.35 v7.30 M153.50,182.35 v7.30 M51.38,176.20 h-7.30 M51.38,150.07 h-7.30 M51.38,123.95 h-7.30 M51.38,97.82 h-7.30 M51.38,71.70 h-7.30 M51.38,45.57 h-7.30 M51.38,19.45 h-7.30" fill="none" stroke="#000" stroke-width="1.3"/>
<g transform="translate(55.30,206.8) scale(0.98,1.06) translate(-11.40,0)"><text x="0.00" y="2.10" style="font-size:20px">−</text><text x="11.68" y="0.00" style="font-size:20px">2</text></g>
<g transform="translate(104.40,206.8) scale(0.98,1.06) translate(-5.56,0)"><text x="0.00" y="0.00" style="font-size:20px">0</text></g>
<g transform="translate(153.50,206.8) scale(0.98,1.06) translate(-5.56,0)"><text x="0.00" y="0.00" style="font-size:20px">2</text></g>
<g transform="translate(35.9,176.20) rotate(-90) scale(1,1.05) translate(-13.90,0)"><text x="0.00" y="0.00" style="font-size:20px">0</text><text x="11.12" y="0.00" style="font-size:20px">.</text><text x="16.68" y="0.00" style="font-size:20px">0</text></g>
<g transform="translate(35.9,123.95) rotate(-90) scale(1,1.05) translate(-13.90,0)"><path d="M763 0H583V1147Q518 1085 412.5 1023T223 930V1104Q373 1174.5 485 1275T644 1469H763Z" transform="translate(0.00,0.00) scale(0.00977,-0.00933)" fill="#000"/><text x="11.12" y="0.00" style="font-size:20px">.</text><text x="16.68" y="0.00" style="font-size:20px">0</text></g>
<g transform="translate(35.9,71.70) rotate(-90) scale(1,1.05) translate(-13.90,0)"><text x="0.00" y="0.00" style="font-size:20px">2</text><text x="11.12" y="0.00" style="font-size:20px">.</text><text x="16.68" y="0.00" style="font-size:20px">0</text></g>
<g transform="translate(35.9,19.45) rotate(-90) scale(1,1.05) translate(-13.90,0)"><text x="0.00" y="0.00" style="font-size:20px">3</text><text x="11.12" y="0.00" style="font-size:20px">.</text><text x="16.68" y="0.00" style="font-size:20px">0</text></g>
<g transform="translate(104.70,229.6) translate(-9.34,0)"><text x="0.00" y="0.00" style="font-size:20px">u</text><text x="11.12" y="3.40" style="font-size:13.6px">8</text></g>
</g>
<g transform="translate(0.00,472.00)">
<path d="M55.30,176.20 L55.61,176.20 L55.91,176.20 L56.22,176.20 L56.53,176.20 L56.83,176.20 L57.14,176.20 L57.45,176.20 L57.76,176.20 L58.06,176.20 L58.37,176.20 L58.68,176.20 L58.98,176.20 L59.29,176.20 L59.60,176.20 L59.90,176.20 L60.21,176.20 L60.52,176.20 L60.82,176.20 L61.13,176.20 L61.44,176.20 L61.74,176.20 L62.05,176.20 L62.36,176.20 L62.67,176.20 L62.97,176.20 L63.28,176.20 L63.59,176.20 L63.89,176.20 L64.20,176.20 L64.51,176.20 L64.81,176.20 L65.12,176.20 L65.43,176.20 L65.73,176.20 L66.04,176.20 L66.35,176.20 L66.65,176.20 L66.96,176.20 L67.27,176.20 L67.58,176.20 L67.88,176.20 L68.19,176.20 L68.50,176.20 L68.80,176.20 L69.11,176.20 L69.42,176.20 L69.72,176.20 L70.03,176.20 L70.34,176.20 L70.64,176.20 L70.95,176.20 L71.26,176.20 L71.56,176.20 L71.87,176.20 L72.18,176.20 L72.48,176.20 L72.79,176.20 L73.10,176.20 L73.41,176.20 L73.71,176.20 L74.02,176.20 L74.33,176.20 L74.63,176.20 L74.94,176.20 L75.25,176.20 L75.55,176.20 L75.86,176.20 L76.17,176.20 L76.47,176.20 L76.78,176.20 L77.09,176.20 L77.40,176.20 L77.70,176.20 L78.01,176.20 L78.32,176.20 L78.62,176.20 L78.93,176.20 L79.24,176.20 L79.54,176.20 L79.85,176.20 L80.16,176.20 L80.46,176.20 L80.77,176.20 L81.08,176.20 L81.38,176.20 L81.69,176.20 L82.00,176.20 L82.31,176.20 L82.61,176.20 L82.92,176.19 L83.23,176.19 L83.53,176.19 L83.84,176.19 L84.15,176.18 L84.45,176.18 L84.76,176.17 L85.07,176.16 L85.37,176.15 L85.68,176.14 L85.99,176.12 L86.29,176.10 L86.60,176.07 L86.91,176.04 L87.22,176.00 L87.52,175.95 L87.83,175.90 L88.14,175.83 L88.44,175.74 L88.75,175.64 L89.06,175.52 L89.36,175.38 L89.67,175.21 L89.98,175.00 L90.28,174.77 L90.59,174.49 L90.90,174.16 L91.20,173.79 L91.51,173.35 L91.82,172.85 L92.12,172.27 L92.43,171.61 L92.74,170.86 L93.05,170.02 L93.35,169.06 L93.66,167.99 L93.97,166.80 L94.27,165.47 L94.58,164.00 L94.89,162.38 L95.19,160.60 L95.50,158.66 L95.81,156.55 L96.11,154.28 L96.42,151.83 L96.73,149.21 L97.04,146.42 L97.34,143.46 L97.65,140.35 L97.96,137.09 L98.26,133.70 L98.57,130.18 L98.88,126.56 L99.18,122.86 L99.49,119.09 L99.80,115.29 L100.10,111.48 L100.41,107.69 L100.72,103.96 L101.02,100.30 L101.33,96.76 L101.64,93.37 L101.95,90.16 L102.25,87.15 L102.56,84.40 L102.87,81.91 L103.17,79.71 L103.48,77.84 L103.79,76.31 L104.09,75.14 L104.40,74.33 L104.71,73.91 L105.01,73.87 L105.32,74.22 L105.63,74.95 L105.93,76.05 L106.24,77.51 L106.55,79.31 L106.86,81.44 L107.16,83.87 L107.47,86.58 L107.78,89.54 L108.08,92.71 L108.39,96.07 L108.70,99.58 L109.00,103.22 L109.31,106.94 L109.62,110.72 L109.92,114.53 L110.23,118.33 L110.54,122.11 L110.84,125.83 L111.15,129.46 L111.46,133.00 L111.77,136.42 L112.07,139.71 L112.38,142.85 L112.69,145.84 L112.99,148.66 L113.30,151.32 L113.61,153.80 L113.91,156.11 L114.22,158.25 L114.53,160.22 L114.83,162.03 L115.14,163.68 L115.45,165.19 L115.75,166.54 L116.06,167.76 L116.37,168.86 L116.68,169.84 L116.98,170.70 L117.29,171.47 L117.60,172.15 L117.90,172.74 L118.21,173.25 L118.52,173.70 L118.82,174.09 L119.13,174.43 L119.44,174.71 L119.74,174.96 L120.05,175.17 L120.36,175.35 L120.66,175.49 L120.97,175.62 L121.28,175.72 L121.59,175.81 L121.89,175.88 L122.20,175.94 L122.51,175.99 L122.81,176.03 L123.12,176.07 L123.43,176.09 L123.73,176.12 L124.04,176.13 L124.35,176.15 L124.65,176.16 L124.96,176.17 L125.27,176.17 L125.57,176.18 L125.88,176.18 L126.19,176.19 L126.50,176.19 L126.80,176.19 L127.11,176.19 L127.42,176.20 L127.72,176.20 L128.03,176.20 L128.34,176.20 L128.64,176.20 L128.95,176.20 L129.26,176.20 L129.56,176.20 L129.87,176.20 L130.18,176.20 L130.48,176.20 L130.79,176.20 L131.10,176.20 L131.41,176.20 L131.71,176.20 L132.02,176.20 L132.33,176.20 L132.63,176.20 L132.94,176.20 L133.25,176.20 L133.55,176.20 L133.86,176.20 L134.17,176.20 L134.47,176.20 L134.78,176.20 L135.09,176.20 L135.39,176.20 L135.70,176.20 L136.01,176.20 L136.31,176.20 L136.62,176.20 L136.93,176.20 L137.24,176.20 L137.54,176.20 L137.85,176.20 L138.16,176.20 L138.46,176.20 L138.77,176.20 L139.08,176.20 L139.38,176.20 L139.69,176.20 L140.00,176.20 L140.30,176.20 L140.61,176.20 L140.92,176.20 L141.23,176.20 L141.53,176.20 L141.84,176.20 L142.15,176.20 L142.45,176.20 L142.76,176.20 L143.07,176.20 L143.37,176.20 L143.68,176.20 L143.99,176.20 L144.29,176.20 L144.60,176.20 L144.91,176.20 L145.21,176.20 L145.52,176.20 L145.83,176.20 L146.14,176.20 L146.44,176.20 L146.75,176.20 L147.06,176.20 L147.36,176.20 L147.67,176.20 L147.98,176.20 L148.28,176.20 L148.59,176.20 L148.90,176.20 L149.20,176.20 L149.51,176.20 L149.82,176.20 L150.12,176.20 L150.43,176.20 L150.74,176.20 L151.05,176.20 L151.35,176.20 L151.66,176.20 L151.97,176.20 L152.27,176.20 L152.58,176.20 L152.89,176.20 L153.19,176.20 L153.50,176.20" fill="none" stroke="#0000ff" stroke-width="2.0" stroke-linecap="round" stroke-linejoin="round"/>
<path d="M84.24,176.04 L91.29,175.68 L91.52,175.58 L91.74,175.48 L91.97,175.35 L92.19,175.21 L92.42,175.04 L92.65,174.85 L92.87,174.63 L93.10,174.39 L93.32,174.10 L93.55,173.78 L93.77,173.42 L94.00,173.00 L94.23,172.54 L94.45,172.02 L94.68,171.44 L94.90,170.79 L95.13,170.06 L95.36,169.25 L95.58,168.36 L95.81,167.38 L96.03,166.29 L96.26,165.10 L96.49,163.80 L96.71,162.13 L96.94,160.06 L97.16,157.78 L97.39,155.29 L97.61,152.60 L97.84,149.70 L98.07,146.60 L98.29,143.30 L98.52,139.83 L98.74,136.19 L98.97,132.40 L99.20,128.49 L99.42,124.48 L99.65,121.50 L99.87,118.63 L100.10,115.70 L100.32,112.71 L100.55,109.69 L100.78,106.63 L101.00,103.55 L101.23,100.47 L101.45,97.38 L101.68,94.32 L101.91,91.28 L102.13,88.30 L102.36,85.38 L102.58,82.55 L102.81,79.81 L103.04,77.21 L103.26,74.75 L103.49,72.46 L103.71,70.37 L103.94,68.52 L104.16,66.92 L104.39,65.63 L104.62,64.71 L104.84,64.28 L105.08,64.30 L105.32,64.38 L105.55,64.56 L105.79,64.86 L106.03,65.32 L106.26,65.94 L106.50,66.75 L106.74,67.76 L106.97,68.98 L107.21,70.42 L107.45,72.09 L107.49,73.01 L107.68,73.98 L107.92,76.11 L108.16,78.45 L108.40,81.02 L108.63,83.79 L108.87,86.77 L109.11,90.00 L109.34,94.08 L109.58,98.42 L109.82,102.98 L110.05,107.73 L110.29,112.60 L110.53,117.56 L110.76,122.53 L111.00,126.22 L111.24,129.33 L111.48,132.35 L111.71,135.29 L111.95,138.12 L112.19,140.84 L112.42,143.46 L112.66,145.95 L112.90,148.33 L113.13,150.58 L113.37,152.71 L113.61,154.72 L113.84,156.60 L114.08,158.37 L114.32,160.02 L114.56,161.55 L114.79,162.97 L115.03,164.37 L115.27,165.67 L115.50,166.86 L115.74,167.94 L115.98,168.92 L116.21,169.80 L116.45,170.60 L116.69,171.31 L116.92,171.95 L117.16,172.51 L117.40,173.01 L117.63,173.45 L117.87,173.84 L118.11,174.18 L118.35,174.48 L118.58,174.74 L118.82,174.96 L119.06,175.16 L124.16,176.04" fill="none" stroke="#ff0000" stroke-width="2.3" stroke-linecap="butt" stroke-linejoin="round"/>
<path d="M51.38,13.25 H157.50 V182.35 H51.38 Z M55.30,182.35 v7.30 M79.85,182.35 v7.30 M104.40,182.35 v7.30 M128.95,182.35 v7.30 M153.50,182.35 v7.30 M51.38,176.20 h-7.30 M51.38,150.07 h-7.30 M51.38,123.95 h-7.30 M51.38,97.82 h-7.30 M51.38,71.70 h-7.30 M51.38,45.57 h-7.30 M51.38,19.45 h-7.30" fill="none" stroke="#000" stroke-width="1.3"/>
<g transform="translate(55.30,206.8) scale(0.98,1.06) translate(-11.40,0)"><text x="0.00" y="2.10" style="font-size:20px">−</text><text x="11.68" y="0.00" style="font-size:20px">2</text></g>
<g transform="translate(104.40,206.8) scale(0.98,1.06) translate(-5.56,0)"><text x="0.00" y="0.00" style="font-size:20px">0</text></g>
<g transform="translate(153.50,206.8) scale(0.98,1.06) translate(-5.56,0)"><text x="0.00" y="0.00" style="font-size:20px">2</text></g>
<g transform="translate(35.9,176.20) rotate(-90) scale(1,1.05) translate(-13.90,0)"><text x="0.00" y="0.00" style="font-size:20px">0</text><text x="11.12" y="0.00" style="font-size:20px">.</text><text x="16.68" y="0.00" style="font-size:20px">0</text></g>
<g transform="translate(35.9,123.95) rotate(-90) scale(1,1.05) translate(-13.90,0)"><path d="M763 0H583V1147Q518 1085 412.5 1023T223 930V1104Q373 1174.5 485 1275T644 1469H763Z" transform="translate(0.00,0.00) scale(0.00977,-0.00933)" fill="#000"/><text x="11.12" y="0.00" style="font-size:20px">.</text><text x="16.68" y="0.00" style="font-size:20px">0</text></g>
<g transform="translate(35.9,71.70) rotate(-90) scale(1,1.05) translate(-13.90,0)"><text x="0.00" y="0.00" style="font-size:20px">2</text><text x="11.12" y="0.00" style="font-size:20px">.</text><text x="16.68" y="0.00" style="font-size:20px">0</text></g>
<g transform="translate(35.9,19.45) rotate(-90) scale(1,1.05) translate(-13.90,0)"><text x="0.00" y="0.00" style="font-size:20px">3</text><text x="11.12" y="0.00" style="font-size:20px">.</text><text x="16.68" y="0.00" style="font-size:20px">0</text></g>
<g transform="translate(104.70,229.6) translate(-9.34,0)"><text x="0.00" y="0.00" style="font-size:20px">u</text><text x="11.12" y="3.40" style="font-size:13.6px">9</text></g>
</g>
<g transform="translate(170.25,472.00)">
<path d="M55.30,176.20 L55.61,176.20 L55.91,176.20 L56.22,176.20 L56.53,176.20 L56.83,176.20 L57.14,176.20 L57.45,176.20 L57.76,176.20 L58.06,176.20 L58.37,176.20 L58.68,176.20 L58.98,176.20 L59.29,176.20 L59.60,176.20 L59.90,176.20 L60.21,176.20 L60.52,176.20 L60.82,176.20 L61.13,176.20 L61.44,176.20 L61.74,176.20 L62.05,176.20 L62.36,176.20 L62.67,176.20 L62.97,176.20 L63.28,176.20 L63.59,176.20 L63.89,176.20 L64.20,176.20 L64.51,176.20 L64.81,176.20 L65.12,176.20 L65.43,176.20 L65.73,176.20 L66.04,176.20 L66.35,176.20 L66.65,176.20 L66.96,176.20 L67.27,176.20 L67.58,176.20 L67.88,176.20 L68.19,176.20 L68.50,176.20 L68.80,176.20 L69.11,176.20 L69.42,176.20 L69.72,176.20 L70.03,176.20 L70.34,176.20 L70.64,176.20 L70.95,176.20 L71.26,176.20 L71.56,176.20 L71.87,176.20 L72.18,176.20 L72.48,176.20 L72.79,176.20 L73.10,176.20 L73.41,176.20 L73.71,176.20 L74.02,176.20 L74.33,176.20 L74.63,176.20 L74.94,176.20 L75.25,176.20 L75.55,176.20 L75.86,176.20 L76.17,176.20 L76.47,176.20 L76.78,176.20 L77.09,176.20 L77.40,176.20 L77.70,176.20 L78.01,176.20 L78.32,176.20 L78.62,176.20 L78.93,176.20 L79.24,176.20 L79.54,176.20 L79.85,176.20 L80.16,176.20 L80.46,176.20 L80.77,176.20 L81.08,176.20 L81.38,176.20 L81.69,176.20 L82.00,176.20 L82.31,176.20 L82.61,176.20 L82.92,176.20 L83.23,176.19 L83.53,176.19 L83.84,176.19 L84.15,176.19 L84.45,176.19 L84.76,176.18 L85.07,176.18 L85.37,176.17 L85.68,176.16 L85.99,176.15 L86.29,176.14 L86.60,176.12 L86.91,176.10 L87.22,176.08 L87.52,176.05 L87.83,176.01 L88.14,175.97 L88.44,175.92 L88.75,175.86 L89.06,175.78 L89.36,175.69 L89.67,175.58 L89.98,175.45 L90.28,175.30 L90.59,175.12 L90.90,174.92 L91.20,174.67 L91.51,174.39 L91.82,174.06 L92.12,173.68 L92.43,173.24 L92.74,172.74 L93.05,172.17 L93.35,171.52 L93.66,170.78 L93.97,169.95 L94.27,169.03 L94.58,167.99 L94.89,166.83 L95.19,165.56 L95.50,164.15 L95.81,162.60 L96.11,160.91 L96.42,159.07 L96.73,157.07 L97.04,154.92 L97.34,152.61 L97.65,150.15 L97.96,147.53 L98.26,144.75 L98.57,141.83 L98.88,138.78 L99.18,135.59 L99.49,132.30 L99.80,128.90 L100.10,125.42 L100.41,121.88 L100.72,118.30 L101.02,114.70 L101.33,111.11 L101.64,107.56 L101.95,104.06 L102.25,100.66 L102.56,97.38 L102.87,94.26 L103.17,91.30 L103.48,88.56 L103.79,86.05 L104.09,83.79 L104.40,81.82 L104.71,80.15 L105.01,78.79 L105.32,77.76 L105.63,77.08 L105.93,76.75 L106.24,76.77 L106.55,77.15 L106.86,77.87 L107.16,78.93 L107.47,80.33 L107.78,82.04 L108.08,84.05 L108.39,86.34 L108.70,88.88 L109.00,91.65 L109.31,94.62 L109.62,97.77 L109.92,101.07 L110.23,104.48 L110.54,107.98 L110.84,111.54 L111.15,115.13 L111.46,118.73 L111.77,122.31 L112.07,125.84 L112.38,129.31 L112.69,132.70 L112.99,135.98 L113.30,139.15 L113.61,142.19 L113.91,145.09 L114.22,147.85 L114.53,150.45 L114.83,152.90 L115.14,155.19 L115.45,157.32 L115.75,159.30 L116.06,161.12 L116.37,162.79 L116.68,164.32 L116.98,165.72 L117.29,166.98 L117.60,168.12 L117.90,169.14 L118.21,170.06 L118.52,170.87 L118.82,171.60 L119.13,172.24 L119.44,172.80 L119.74,173.29 L120.05,173.73 L120.36,174.10 L120.66,174.42 L120.97,174.70 L121.28,174.94 L121.59,175.15 L121.89,175.32 L122.20,175.47 L122.51,175.60 L122.81,175.70 L123.12,175.79 L123.43,175.86 L123.73,175.93 L124.04,175.98 L124.35,176.02 L124.65,176.05 L124.96,176.08 L125.27,176.11 L125.57,176.12 L125.88,176.14 L126.19,176.15 L126.50,176.16 L126.80,176.17 L127.11,176.18 L127.42,176.18 L127.72,176.19 L128.03,176.19 L128.34,176.19 L128.64,176.19 L128.95,176.19 L129.26,176.20 L129.56,176.20 L129.87,176.20 L130.18,176.20 L130.48,176.20 L130.79,176.20 L131.10,176.20 L131.41,176.20 L131.71,176.20 L132.02,176.20 L132.33,176.20 L132.63,176.20 L132.94,176.20 L133.25,176.20 L133.55,176.20 L133.86,176.20 L134.17,176.20 L134.47,176.20 L134.78,176.20 L135.09,176.20 L135.39,176.20 L135.70,176.20 L136.01,176.20 L136.31,176.20 L136.62,176.20 L136.93,176.20 L137.24,176.20 L137.54,176.20 L137.85,176.20 L138.16,176.20 L138.46,176.20 L138.77,176.20 L139.08,176.20 L139.38,176.20 L139.69,176.20 L140.00,176.20 L140.30,176.20 L140.61,176.20 L140.92,176.20 L141.23,176.20 L141.53,176.20 L141.84,176.20 L142.15,176.20 L142.45,176.20 L142.76,176.20 L143.07,176.20 L143.37,176.20 L143.68,176.20 L143.99,176.20 L144.29,176.20 L144.60,176.20 L144.91,176.20 L145.21,176.20 L145.52,176.20 L145.83,176.20 L146.14,176.20 L146.44,176.20 L146.75,176.20 L147.06,176.20 L147.36,176.20 L147.67,176.20 L147.98,176.20 L148.28,176.20 L148.59,176.20 L148.90,176.20 L149.20,176.20 L149.51,176.20 L149.82,176.20 L150.12,176.20 L150.43,176.20 L150.74,176.20 L151.05,176.20 L151.35,176.20 L151.66,176.20 L151.97,176.20 L152.27,176.20 L152.58,176.20 L152.89,176.20 L153.19,176.20 L153.50,176.20" fill="none" stroke="#0000ff" stroke-width="2.0" stroke-linecap="round" stroke-linejoin="round"/>
<path d="M88.03,176.04 L93.06,174.11 L93.29,173.85 L93.51,173.55 L93.74,173.23 L93.97,172.86 L94.20,172.47 L94.42,172.03 L94.65,171.55 L94.88,171.02 L95.11,170.44 L95.33,169.81 L95.56,169.11 L95.79,168.36 L96.02,167.55 L96.25,166.66 L96.47,165.70 L96.70,164.67 L96.93,163.56 L97.16,162.12 L97.38,160.41 L97.61,158.57 L97.84,156.58 L98.07,154.46 L98.30,152.19 L98.52,149.78 L98.75,147.23 L98.98,144.55 L99.21,141.75 L99.43,138.83 L99.66,135.80 L99.89,132.67 L100.12,129.46 L100.34,126.18 L100.57,122.92 L100.80,119.80 L101.03,116.65 L101.26,113.48 L101.48,110.31 L101.71,107.16 L101.94,104.03 L102.17,100.95 L102.39,97.92 L102.62,94.98 L102.85,92.12 L103.08,89.37 L103.30,86.73 L103.53,84.23 L103.76,81.88 L103.99,79.67 L104.22,77.64 L104.44,75.78 L104.67,74.10 L104.90,72.61 L105.13,71.31 L105.35,70.20 L105.58,69.29 L105.81,68.57 L106.04,68.03 L106.26,67.67 L106.49,67.47 L106.72,67.42 L106.93,67.92 L107.13,68.90 L107.34,70.18 L107.54,71.72 L107.75,73.46 L107.95,75.36 L108.16,77.42 L108.36,79.60 L108.57,81.88 L108.78,84.26 L108.98,86.70 L109.19,89.20 L109.39,91.74 L109.60,94.32 L109.80,96.92 L110.01,99.53 L110.22,102.14 L110.42,104.74 L110.63,107.33 L110.83,109.90 L111.04,112.45 L111.24,114.96 L111.45,117.43 L111.65,119.86 L111.86,122.24 L112.07,124.65 L112.27,127.22 L112.48,129.73 L112.68,132.18 L112.89,134.55 L113.09,136.85 L113.30,139.08 L113.50,141.23 L113.71,143.30 L113.92,145.29 L114.12,147.20 L114.33,149.03 L114.53,150.78 L114.74,152.45 L114.94,154.03 L115.15,155.54 L115.36,156.97 L115.56,158.33 L115.77,159.61 L115.97,160.82 L116.18,161.96 L116.38,163.03 L116.59,164.09 L116.79,165.08 L117.00,166.01 L117.21,166.88 L117.41,167.68 L117.62,168.43 L117.82,169.12 L118.03,169.76 L118.23,170.35 L118.44,170.90 L118.65,171.40 L118.85,171.86 L119.06,172.28 L124.78,176.04" fill="none" stroke="#ff0000" stroke-width="2.3" stroke-linecap="butt" stroke-linejoin="round"/>
<path d="M51.38,13.25 H157.50 V182.35 H51.38 Z M55.30,182.35 v7.30 M79.85,182.35 v7.30 M104.40,182.35 v7.30 M128.95,182.35 v7.30 M153.50,182.35 v7.30 M51.38,176.20 h-7.30 M51.38,150.07 h-7.30 M51.38,123.95 h-7.30 M51.38,97.82 h-7.30 M51.38,71.70 h-7.30 M51.38,45.57 h-7.30 M51.38,19.45 h-7.30" fill="none" stroke="#000" stroke-width="1.3"/>
<g transform="translate(55.30,206.8) scale(0.98,1.06) translate(-11.40,0)"><text x="0.00" y="2.10" style="font-size:20px">−</text><text x="11.68" y="0.00" style="font-size:20px">2</text></g>
<g transform="translate(104.40,206.8) scale(0.98,1.06) translate(-5.56,0)"><text x="0.00" y="0.00" style="font-size:20px">0</text></g>
<g transform="translate(153.50,206.8) scale(0.98,1.06) translate(-5.56,0)"><text x="0.00" y="0.00" style="font-size:20px">2</text></g>
<g transform="translate(35.9,176.20) rotate(-90) scale(1,1.05) translate(-13.90,0)"><text x="0.00" y="0.00" style="font-size:20px">0</text><text x="11.12" y="0.00" style="font-size:20px">.</text><text x="16.68" y="0.00" style="font-size:20px">0</text></g>
<g transform="translate(35.9,123.95) rotate(-90) scale(1,1.05) translate(-13.90,0)"><path d="M763 0H583V1147Q518 1085 412.5 1023T223 930V1104Q373 1174.5 485 1275T644 1469H763Z" transform="translate(0.00,0.00) scale(0.00977,-0.00933)" fill="#000"/><text x="11.12" y="0.00" style="font-size:20px">.</text><text x="16.68" y="0.00" style="font-size:20px">0</text></g>
<g transform="translate(35.9,71.70) rotate(-90) scale(1,1.05) translate(-13.90,0)"><text x="0.00" y="0.00" style="font-size:20px">2</text><text x="11.12" y="0.00" style="font-size:20px">.</text><text x="16.68" y="0.00" style="font-size:20px">0</text></g>
<g transform="translate(35.9,19.45) rotate(-90) scale(1,1.05) translate(-13.90,0)"><text x="0.00" y="0.00" style="font-size:20px">3</text><text x="11.12" y="0.00" style="font-size:20px">.</text><text x="16.68" y="0.00" style="font-size:20px">0</text></g>
<g transform="translate(104.70,229.6) translate(-13.13,0)"><text x="0.00" y="0.00" style="font-size:20px">u</text><path d="M763 0H583V1147Q518 1085 412.5 1023T223 930V1104Q373 1174.5 485 1275T644 1469H763Z" transform="translate(11.12,3.40) scale(0.00664,-0.00634)" fill="#000"/><text x="18.69" y="3.40" style="font-size:13.6px">0</text></g>
</g>
<g transform="translate(340.50,472.00)">
<path d="M55.30,176.20 L55.61,176.20 L55.91,176.20 L56.22,176.20 L56.53,176.20 L56.83,176.20 L57.14,176.20 L57.45,176.20 L57.76,176.20 L58.06,176.20 L58.37,176.20 L58.68,176.20 L58.98,176.20 L59.29,176.20 L59.60,176.20 L59.90,176.20 L60.21,176.20 L60.52,176.20 L60.82,176.20 L61.13,176.20 L61.44,176.20 L61.74,176.20 L62.05,176.20 L62.36,176.20 L62.67,176.20 L62.97,176.20 L63.28,176.20 L63.59,176.20 L63.89,176.20 L64.20,176.20 L64.51,176.20 L64.81,176.20 L65.12,176.20 L65.43,176.20 L65.73,176.20 L66.04,176.20 L66.35,176.20 L66.65,176.20 L66.96,176.20 L67.27,176.20 L67.58,176.20 L67.88,176.20 L68.19,176.20 L68.50,176.20 L68.80,176.20 L69.11,176.20 L69.42,176.20 L69.72,176.20 L70.03,176.20 L70.34,176.20 L70.64,176.20 L70.95,176.20 L71.26,176.20 L71.56,176.20 L71.87,176.20 L72.18,176.20 L72.48,176.20 L72.79,176.20 L73.10,176.20 L73.41,176.20 L73.71,176.20 L74.02,176.20 L74.33,176.20 L74.63,176.20 L74.94,176.20 L75.25,176.20 L75.55,176.20 L75.86,176.20 L76.17,176.20 L76.47,176.20 L76.78,176.20 L77.09,176.20 L77.40,176.20 L77.70,176.20 L78.01,176.20 L78.32,176.20 L78.62,176.20 L78.93,176.20 L79.24,176.20 L79.54,176.20 L79.85,176.20 L80.16,176.19 L80.46,176.19 L80.77,176.19 L81.08,176.19 L81.38,176.18 L81.69,176.17 L82.00,176.16 L82.31,176.15 L82.61,176.13 L82.92,176.11 L83.23,176.09 L83.53,176.05 L83.84,176.00 L84.15,175.94 L84.45,175.87 L84.76,175.77 L85.07,175.65 L85.37,175.51 L85.68,175.32 L85.99,175.10 L86.29,174.82 L86.60,174.48 L86.91,174.08 L87.22,173.59 L87.52,173.00 L87.83,172.30 L88.14,171.48 L88.44,170.52 L88.75,169.40 L89.06,168.10 L89.36,166.60 L89.67,164.89 L89.98,162.95 L90.28,160.75 L90.59,158.29 L90.90,155.56 L91.20,152.53 L91.51,149.21 L91.82,145.59 L92.12,141.67 L92.43,137.46 L92.74,132.98 L93.05,128.24 L93.35,123.27 L93.66,118.10 L93.97,112.77 L94.27,107.33 L94.58,101.83 L94.89,96.33 L95.19,90.88 L95.50,85.56 L95.81,80.44 L96.11,75.57 L96.42,71.02 L96.73,66.88 L97.04,63.18 L97.34,60.00 L97.65,57.37 L97.96,55.35 L98.26,53.95 L98.57,53.22 L98.88,53.15 L99.18,53.75 L99.49,55.02 L99.80,56.92 L100.10,59.42 L100.41,62.50 L100.72,66.10 L101.02,70.16 L101.33,74.63 L101.64,79.44 L101.95,84.52 L102.25,89.81 L102.56,95.23 L102.87,100.73 L103.17,106.23 L103.48,111.69 L103.79,117.04 L104.09,122.25 L104.40,127.26 L104.71,132.05 L105.01,136.59 L105.32,140.85 L105.63,144.83 L105.93,148.51 L106.24,151.89 L106.55,154.98 L106.86,157.77 L107.16,160.28 L107.47,162.53 L107.78,164.52 L108.08,166.28 L108.39,167.81 L108.70,169.15 L109.00,170.31 L109.31,171.30 L109.62,172.15 L109.92,172.87 L110.23,173.48 L110.54,173.98 L110.84,174.41 L111.15,174.76 L111.46,175.05 L111.77,175.28 L112.07,175.47 L112.38,175.63 L112.69,175.75 L112.99,175.85 L113.30,175.93 L113.61,175.99 L113.91,176.04 L114.22,176.08 L114.53,176.11 L114.83,176.13 L115.14,176.15 L115.45,176.16 L115.75,176.17 L116.06,176.18 L116.37,176.18 L116.68,176.19 L116.98,176.19 L117.29,176.19 L117.60,176.20 L117.90,176.20 L118.21,176.20 L118.52,176.20 L118.82,176.20 L119.13,176.20 L119.44,176.20 L119.74,176.20 L120.05,176.20 L120.36,176.20 L120.66,176.20 L120.97,176.20 L121.28,176.20 L121.59,176.20 L121.89,176.20 L122.20,176.20 L122.51,176.20 L122.81,176.20 L123.12,176.20 L123.43,176.20 L123.73,176.20 L124.04,176.20 L124.35,176.20 L124.65,176.20 L124.96,176.20 L125.27,176.20 L125.57,176.20 L125.88,176.20 L126.19,176.20 L126.50,176.20 L126.80,176.20 L127.11,176.20 L127.42,176.20 L127.72,176.20 L128.03,176.20 L128.34,176.20 L128.64,176.20 L128.95,176.20 L129.26,176.20 L129.56,176.20 L129.87,176.20 L130.18,176.20 L130.48,176.20 L130.79,176.20 L131.10,176.20 L131.41,176.20 L131.71,176.20 L132.02,176.20 L132.33,176.20 L132.63,176.20 L132.94,176.20 L133.25,176.20 L133.55,176.20 L133.86,176.20 L134.17,176.20 L134.47,176.20 L134.78,176.20 L135.09,176.20 L135.39,176.20 L135.70,176.20 L136.01,176.20 L136.31,176.20 L136.62,176.20 L136.93,176.20 L137.24,176.20 L137.54,176.20 L137.85,176.20 L138.16,176.20 L138.46,176.20 L138.77,176.20 L139.08,176.20 L139.38,176.20 L139.69,176.20 L140.00,176.20 L140.30,176.20 L140.61,176.20 L140.92,176.20 L141.23,176.20 L141.53,176.20 L141.84,176.20 L142.15,176.20 L142.45,176.20 L142.76,176.20 L143.07,176.20 L143.37,176.20 L143.68,176.20 L143.99,176.20 L144.29,176.20 L144.60,176.20 L144.91,176.20 L145.21,176.20 L145.52,176.20 L145.83,176.20 L146.14,176.20 L146.44,176.20 L146.75,176.20 L147.06,176.20 L147.36,176.20 L147.67,176.20 L147.98,176.20 L148.28,176.20 L148.59,176.20 L148.90,176.20 L149.20,176.20 L149.51,176.20 L149.82,176.20 L150.12,176.20 L150.43,176.20 L150.74,176.20 L151.05,176.20 L151.35,176.20 L151.66,176.20 L151.97,176.20 L152.27,176.20 L152.58,176.20 L152.89,176.20 L153.19,176.20 L153.50,176.20" fill="none" stroke="#0000ff" stroke-width="2.0" stroke-linecap="round" stroke-linejoin="round"/>
<path d="M81.67,176.04 L87.12,174.63 L87.32,174.45 L87.52,174.24 L87.73,174.01 L87.93,173.76 L88.13,173.49 L88.33,173.18 L88.54,172.84 L88.74,172.47 L88.94,172.06 L89.15,171.61 L89.35,171.12 L89.55,170.58 L89.76,170.00 L89.96,169.35 L90.16,168.65 L90.36,167.89 L90.57,167.06 L90.77,166.15 L90.97,165.17 L91.18,164.11 L91.38,162.92 L91.58,161.33 L91.78,159.59 L91.99,157.70 L92.19,155.65 L92.39,153.43 L92.60,151.05 L92.80,148.49 L93.00,145.76 L93.21,142.84 L93.41,139.75 L93.61,136.49 L93.81,133.05 L94.02,129.44 L94.22,125.67 L94.42,120.98 L94.63,115.53 L94.83,109.95 L95.03,104.31 L95.23,98.65 L95.44,93.02 L95.64,87.49 L95.84,82.11 L96.05,76.92 L96.25,71.98 L96.45,67.32 L96.66,62.99 L96.86,59.02 L97.06,55.42 L97.26,52.22 L97.47,49.42 L97.67,47.03 L97.87,45.04 L98.08,43.43 L98.28,42.18 L98.48,41.27 L98.68,40.65 L98.89,40.28 L99.09,40.12 L99.29,40.09 L99.46,40.51 L99.62,41.45 L99.79,42.79 L99.95,44.47 L100.11,46.45 L100.28,48.69 L100.44,51.17 L100.61,53.85 L100.77,56.72 L100.93,59.74 L101.10,62.91 L101.26,66.18 L101.43,69.55 L101.59,73.00 L101.75,76.51 L101.92,80.06 L102.08,83.63 L102.25,87.21 L102.41,90.79 L102.58,94.35 L102.74,97.88 L102.90,101.38 L103.07,104.82 L103.23,108.21 L103.40,111.53 L103.56,114.77 L103.72,117.93 L103.89,121.01 L104.05,124.01 L104.22,127.20 L104.38,130.29 L104.54,133.26 L104.71,136.12 L104.87,138.85 L105.04,141.47 L105.20,143.96 L105.36,146.33 L105.53,148.57 L105.69,150.69 L105.86,152.70 L106.02,154.58 L106.18,156.35 L106.35,158.01 L106.51,159.56 L106.68,161.00 L106.84,162.35 L107.01,163.67 L107.17,164.99 L107.33,166.21 L107.50,167.31 L107.66,168.32 L107.83,169.23 L107.99,170.06 L108.15,170.80 L108.32,171.46 L108.48,172.06 L108.65,172.59 L108.81,173.06 L108.97,173.48 L109.14,173.85 L114.44,176.04" fill="none" stroke="#ff0000" stroke-width="2.3" stroke-linecap="butt" stroke-linejoin="round"/>
<path d="M51.38,13.25 H157.50 V182.35 H51.38 Z M55.30,182.35 v7.30 M79.85,182.35 v7.30 M104.40,182.35 v7.30 M128.95,182.35 v7.30 M153.50,182.35 v7.30 M51.38,176.20 h-7.30 M51.38,150.07 h-7.30 M51.38,123.95 h-7.30 M51.38,97.82 h-7.30 M51.38,71.70 h-7.30 M51.38,45.57 h-7.30 M51.38,19.45 h-7.30" fill="none" stroke="#000" stroke-width="1.3"/>
<g transform="translate(55.30,206.8) scale(0.98,1.06) translate(-11.40,0)"><text x="0.00" y="2.10" style="font-size:20px">−</text><text x="11.68" y="0.00" style="font-size:20px">2</text></g>
<g transform="translate(104.40,206.8) scale(0.98,1.06) translate(-5.56,0)"><text x="0.00" y="0.00" style="font-size:20px">0</text></g>
<g transform="translate(153.50,206.8) scale(0.98,1.06) translate(-5.56,0)"><text x="0.00" y="0.00" style="font-size:20px">2</text></g>
<g transform="translate(35.9,176.20) rotate(-90) scale(1,1.05) translate(-13.90,0)"><text x="0.00" y="0.00" style="font-size:20px">0</text><text x="11.12" y="0.00" style="font-size:20px">.</text><text x="16.68" y="0.00" style="font-size:20px">0</text></g>
<g transform="translate(35.9,123.95) rotate(-90) scale(1,1.05) translate(-13.90,0)"><path d="M763 0H583V1147Q518 1085 412.5 1023T223 930V1104Q373 1174.5 485 1275T644 1469H763Z" transform="translate(0.00,0.00) scale(0.00977,-0.00933)" fill="#000"/><text x="11.12" y="0.00" style="font-size:20px">.</text><text x="16.68" y="0.00" style="font-size:20px">0</text></g>
<g transform="translate(35.9,71.70) rotate(-90) scale(1,1.05) translate(-13.90,0)"><text x="0.00" y="0.00" style="font-size:20px">2</text><text x="11.12" y="0.00" style="font-size:20px">.</text><text x="16.68" y="0.00" style="font-size:20px">0</text></g>
<g transform="translate(35.9,19.45) rotate(-90) scale(1,1.05) translate(-13.90,0)"><text x="0.00" y="0.00" style="font-size:20px">3</text><text x="11.12" y="0.00" style="font-size:20px">.</text><text x="16.68" y="0.00" style="font-size:20px">0</text></g>
<g transform="translate(104.70,229.6) translate(-13.13,0)"><text x="0.00" y="0.00" style="font-size:20px">u</text><path d="M763 0H583V1147Q518 1085 412.5 1023T223 930V1104Q373 1174.5 485 1275T644 1469H763Z" transform="translate(11.12,3.40) scale(0.00664,-0.00634)" fill="#000"/><path d="M763 0H583V1147Q518 1085 412.5 1023T223 930V1104Q373 1174.5 485 1275T644 1469H763Z" transform="translate(18.69,3.40) scale(0.00664,-0.00634)" fill="#000"/></g>
</g>
<g transform="translate(510.75,472.00)">
<path d="M55.30,176.20 L55.61,176.20 L55.91,176.20 L56.22,176.20 L56.53,176.20 L56.83,176.20 L57.14,176.20 L57.45,176.20 L57.76,176.20 L58.06,176.20 L58.37,176.20 L58.68,176.20 L58.98,176.20 L59.29,176.20 L59.60,176.20 L59.90,176.20 L60.21,176.20 L60.52,176.20 L60.82,176.20 L61.13,176.20 L61.44,176.20 L61.74,176.20 L62.05,176.20 L62.36,176.20 L62.67,176.20 L62.97,176.20 L63.28,176.20 L63.59,176.20 L63.89,176.20 L64.20,176.20 L64.51,176.20 L64.81,176.20 L65.12,176.20 L65.43,176.20 L65.73,176.20 L66.04,176.20 L66.35,176.20 L66.65,176.20 L66.96,176.20 L67.27,176.20 L67.58,176.20 L67.88,176.20 L68.19,176.20 L68.50,176.20 L68.80,176.20 L69.11,176.20 L69.42,176.20 L69.72,176.20 L70.03,176.20 L70.34,176.20 L70.64,176.20 L70.95,176.20 L71.26,176.20 L71.56,176.20 L71.87,176.20 L72.18,176.20 L72.48,176.20 L72.79,176.20 L73.10,176.20 L73.41,176.20 L73.71,176.20 L74.02,176.20 L74.33,176.20 L74.63,176.20 L74.94,176.20 L75.25,176.20 L75.55,176.20 L75.86,176.20 L76.17,176.20 L76.47,176.20 L76.78,176.20 L77.09,176.20 L77.40,176.20 L77.70,176.20 L78.01,176.20 L78.32,176.20 L78.62,176.19 L78.93,176.19 L79.24,176.19 L79.54,176.19 L79.85,176.18 L80.16,176.18 L80.46,176.17 L80.77,176.16 L81.08,176.15 L81.38,176.13 L81.69,176.12 L82.00,176.09 L82.31,176.07 L82.61,176.03 L82.92,175.99 L83.23,175.94 L83.53,175.87 L83.84,175.79 L84.15,175.70 L84.45,175.58 L84.76,175.44 L85.07,175.28 L85.37,175.08 L85.68,174.85 L85.99,174.57 L86.29,174.25 L86.60,173.87 L86.91,173.43 L87.22,172.91 L87.52,172.32 L87.83,171.64 L88.14,170.86 L88.44,169.98 L88.75,168.97 L89.06,167.84 L89.36,166.57 L89.67,165.15 L89.98,163.58 L90.28,161.84 L90.59,159.92 L90.90,157.83 L91.20,155.55 L91.51,153.07 L91.82,150.41 L92.12,147.56 L92.43,144.52 L92.74,141.29 L93.05,137.90 L93.35,134.34 L93.66,130.64 L93.97,126.82 L94.27,122.88 L94.58,118.87 L94.89,114.80 L95.19,110.71 L95.50,106.63 L95.81,102.60 L96.11,98.64 L96.42,94.80 L96.73,91.12 L97.04,87.63 L97.34,84.37 L97.65,81.37 L97.96,78.67 L98.26,76.30 L98.57,74.28 L98.88,72.64 L99.18,71.40 L99.49,70.58 L99.80,70.17 L100.10,70.20 L100.41,70.65 L100.72,71.53 L101.02,72.82 L101.33,74.50 L101.64,76.56 L101.95,78.98 L102.25,81.71 L102.56,84.74 L102.87,88.04 L103.17,91.55 L103.48,95.26 L103.79,99.11 L104.09,103.08 L104.40,107.12 L104.71,111.20 L105.01,115.29 L105.32,119.36 L105.63,123.36 L105.93,127.28 L106.24,131.10 L106.55,134.78 L106.86,138.32 L107.16,141.69 L107.47,144.89 L107.78,147.91 L108.08,150.74 L108.39,153.38 L108.70,155.83 L109.00,158.09 L109.31,160.16 L109.62,162.06 L109.92,163.78 L110.23,165.33 L110.54,166.73 L110.84,167.98 L111.15,169.10 L111.46,170.09 L111.77,170.96 L112.07,171.73 L112.38,172.40 L112.69,172.98 L112.99,173.48 L113.30,173.92 L113.61,174.29 L113.91,174.61 L114.22,174.88 L114.53,175.11 L114.83,175.30 L115.14,175.46 L115.45,175.60 L115.75,175.71 L116.06,175.80 L116.37,175.88 L116.68,175.94 L116.98,175.99 L117.29,176.04 L117.60,176.07 L117.90,176.10 L118.21,176.12 L118.52,176.14 L118.82,176.15 L119.13,176.16 L119.44,176.17 L119.74,176.18 L120.05,176.18 L120.36,176.19 L120.66,176.19 L120.97,176.19 L121.28,176.19 L121.59,176.20 L121.89,176.20 L122.20,176.20 L122.51,176.20 L122.81,176.20 L123.12,176.20 L123.43,176.20 L123.73,176.20 L124.04,176.20 L124.35,176.20 L124.65,176.20 L124.96,176.20 L125.27,176.20 L125.57,176.20 L125.88,176.20 L126.19,176.20 L126.50,176.20 L126.80,176.20 L127.11,176.20 L127.42,176.20 L127.72,176.20 L128.03,176.20 L128.34,176.20 L128.64,176.20 L128.95,176.20 L129.26,176.20 L129.56,176.20 L129.87,176.20 L130.18,176.20 L130.48,176.20 L130.79,176.20 L131.10,176.20 L131.41,176.20 L131.71,176.20 L132.02,176.20 L132.33,176.20 L132.63,176.20 L132.94,176.20 L133.25,176.20 L133.55,176.20 L133.86,176.20 L134.17,176.20 L134.47,176.20 L134.78,176.20 L135.09,176.20 L135.39,176.20 L135.70,176.20 L136.01,176.20 L136.31,176.20 L136.62,176.20 L136.93,176.20 L137.24,176.20 L137.54,176.20 L137.85,176.20 L138.16,176.20 L138.46,176.20 L138.77,176.20 L139.08,176.20 L139.38,176.20 L139.69,176.20 L140.00,176.20 L140.30,176.20 L140.61,176.20 L140.92,176.20 L141.23,176.20 L141.53,176.20 L141.84,176.20 L142.15,176.20 L142.45,176.20 L142.76,176.20 L143.07,176.20 L143.37,176.20 L143.68,176.20 L143.99,176.20 L144.29,176.20 L144.60,176.20 L144.91,176.20 L145.21,176.20 L145.52,176.20 L145.83,176.20 L146.14,176.20 L146.44,176.20 L146.75,176.20 L147.06,176.20 L147.36,176.20 L147.67,176.20 L147.98,176.20 L148.28,176.20 L148.59,176.20 L148.90,176.20 L149.20,176.20 L149.51,176.20 L149.82,176.20 L150.12,176.20 L150.43,176.20 L150.74,176.20 L151.05,176.20 L151.35,176.20 L151.66,176.20 L151.97,176.20 L152.27,176.20 L152.58,176.20 L152.89,176.20 L153.19,176.20 L153.50,176.20" fill="none" stroke="#0000ff" stroke-width="2.0" stroke-linecap="round" stroke-linejoin="round"/>
<path d="M81.20,176.04 L87.12,173.59 L87.35,173.31 L87.57,173.00 L87.80,172.67 L88.03,172.30 L88.26,171.90 L88.49,171.47 L88.72,170.99 L88.94,170.48 L89.17,169.92 L89.40,169.31 L89.63,168.66 L89.86,167.95 L90.08,167.18 L90.31,166.35 L90.54,165.46 L90.77,164.50 L91.00,163.47 L91.23,162.28 L91.45,160.95 L91.68,159.53 L91.91,158.01 L92.14,156.38 L92.37,154.64 L92.60,152.79 L92.82,150.83 L93.05,148.75 L93.28,146.55 L93.51,144.24 L93.74,141.80 L93.97,139.25 L94.19,136.58 L94.42,133.80 L94.65,130.90 L94.88,127.90 L95.11,124.80 L95.34,121.49 L95.56,118.06 L95.79,114.54 L96.02,110.96 L96.25,107.33 L96.48,103.67 L96.71,99.98 L96.93,96.30 L97.16,92.63 L97.39,88.99 L97.62,85.42 L97.85,81.92 L98.08,78.53 L98.30,75.27 L98.53,72.15 L98.76,69.21 L98.99,66.46 L99.22,63.93 L99.45,61.65 L99.67,59.64 L99.90,57.92 L100.13,56.52 L100.36,55.46 L100.59,54.77 L100.82,54.51 L101.01,55.45 L101.21,57.06 L101.41,59.07 L101.60,61.37 L101.80,63.89 L102.00,66.60 L102.20,69.44 L102.39,72.39 L102.59,75.42 L102.79,78.52 L102.99,81.66 L103.18,84.82 L103.38,87.99 L103.58,91.16 L103.77,94.32 L103.97,97.44 L104.17,100.54 L104.37,103.59 L104.56,106.59 L104.76,109.54 L104.96,112.42 L105.15,115.24 L105.35,117.99 L105.55,120.66 L105.75,123.26 L105.94,125.95 L106.14,128.61 L106.34,131.18 L106.54,133.66 L106.73,136.06 L106.93,138.36 L107.13,140.57 L107.32,142.68 L107.52,144.71 L107.72,146.65 L107.92,148.49 L108.11,150.25 L108.31,151.92 L108.51,153.51 L108.70,155.01 L108.90,156.44 L109.10,157.78 L109.30,159.06 L109.49,160.26 L109.69,161.39 L109.89,162.45 L110.08,163.54 L110.28,164.75 L110.48,165.87 L110.68,166.90 L110.87,167.85 L111.07,168.71 L111.27,169.50 L111.47,170.23 L111.66,170.88 L111.86,171.48 L112.06,172.01 L112.25,172.50 L112.45,172.93 L112.65,173.33 L116.63,176.04" fill="none" stroke="#ff0000" stroke-width="2.3" stroke-linecap="butt" stroke-linejoin="round"/>
<path d="M51.38,13.25 H157.50 V182.35 H51.38 Z M55.30,182.35 v7.30 M79.85,182.35 v7.30 M104.40,182.35 v7.30 M128.95,182.35 v7.30 M153.50,182.35 v7.30 M51.38,176.20 h-7.30 M51.38,150.07 h-7.30 M51.38,123.95 h-7.30 M51.38,97.82 h-7.30 M51.38,71.70 h-7.30 M51.38,45.57 h-7.30 M51.38,19.45 h-7.30" fill="none" stroke="#000" stroke-width="1.3"/>
<g transform="translate(55.30,206.8) scale(0.98,1.06) translate(-11.40,0)"><text x="0.00" y="2.10" style="font-size:20px">−</text><text x="11.68" y="0.00" style="font-size:20px">2</text></g>
<g transform="translate(104.40,206.8) scale(0.98,1.06) translate(-5.56,0)"><text x="0.00" y="0.00" style="font-size:20px">0</text></g>
<g transform="translate(153.50,206.8) scale(0.98,1.06) translate(-5.56,0)"><text x="0.00" y="0.00" style="font-size:20px">2</text></g>
<g transform="translate(35.9,176.20) rotate(-90) scale(1,1.05) translate(-13.90,0)"><text x="0.00" y="0.00" style="font-size:20px">0</text><text x="11.12" y="0.00" style="font-size:20px">.</text><text x="16.68" y="0.00" style="font-size:20px">0</text></g>
<g transform="translate(35.9,123.95) rotate(-90) scale(1,1.05) translate(-13.90,0)"><path d="M763 0H583V1147Q518 1085 412.5 1023T223 930V1104Q373 1174.5 485 1275T644 1469H763Z" transform="translate(0.00,0.00) scale(0.00977,-0.00933)" fill="#000"/><text x="11.12" y="0.00" style="font-size:20px">.</text><text x="16.68" y="0.00" style="font-size:20px">0</text></g>
<g transform="translate(35.9,71.70) rotate(-90) scale(1,1.05) translate(-13.90,0)"><text x="0.00" y="0.00" style="font-size:20px">2</text><text x="11.12" y="0.00" style="font-size:20px">.</text><text x="16.68" y="0.00" style="font-size:20px">0</text></g>
<g transform="translate(35.9,19.45) rotate(-90) scale(1,1.05) translate(-13.90,0)"><text x="0.00" y="0.00" style="font-size:20px">3</text><text x="11.12" y="0.00" style="font-size:20px">.</text><text x="16.68" y="0.00" style="font-size:20px">0</text></g>
<g transform="translate(104.70,229.6) translate(-13.13,0)"><text x="0.00" y="0.00" style="font-size:20px">u</text><path d="M763 0H583V1147Q518 1085 412.5 1023T223 930V1104Q373 1174.5 485 1275T644 1469H763Z" transform="translate(11.12,3.40) scale(0.00664,-0.00634)" fill="#000"/><text x="18.69" y="3.40" style="font-size:13.6px">2</text></g>
</g>
</svg></body></html>
